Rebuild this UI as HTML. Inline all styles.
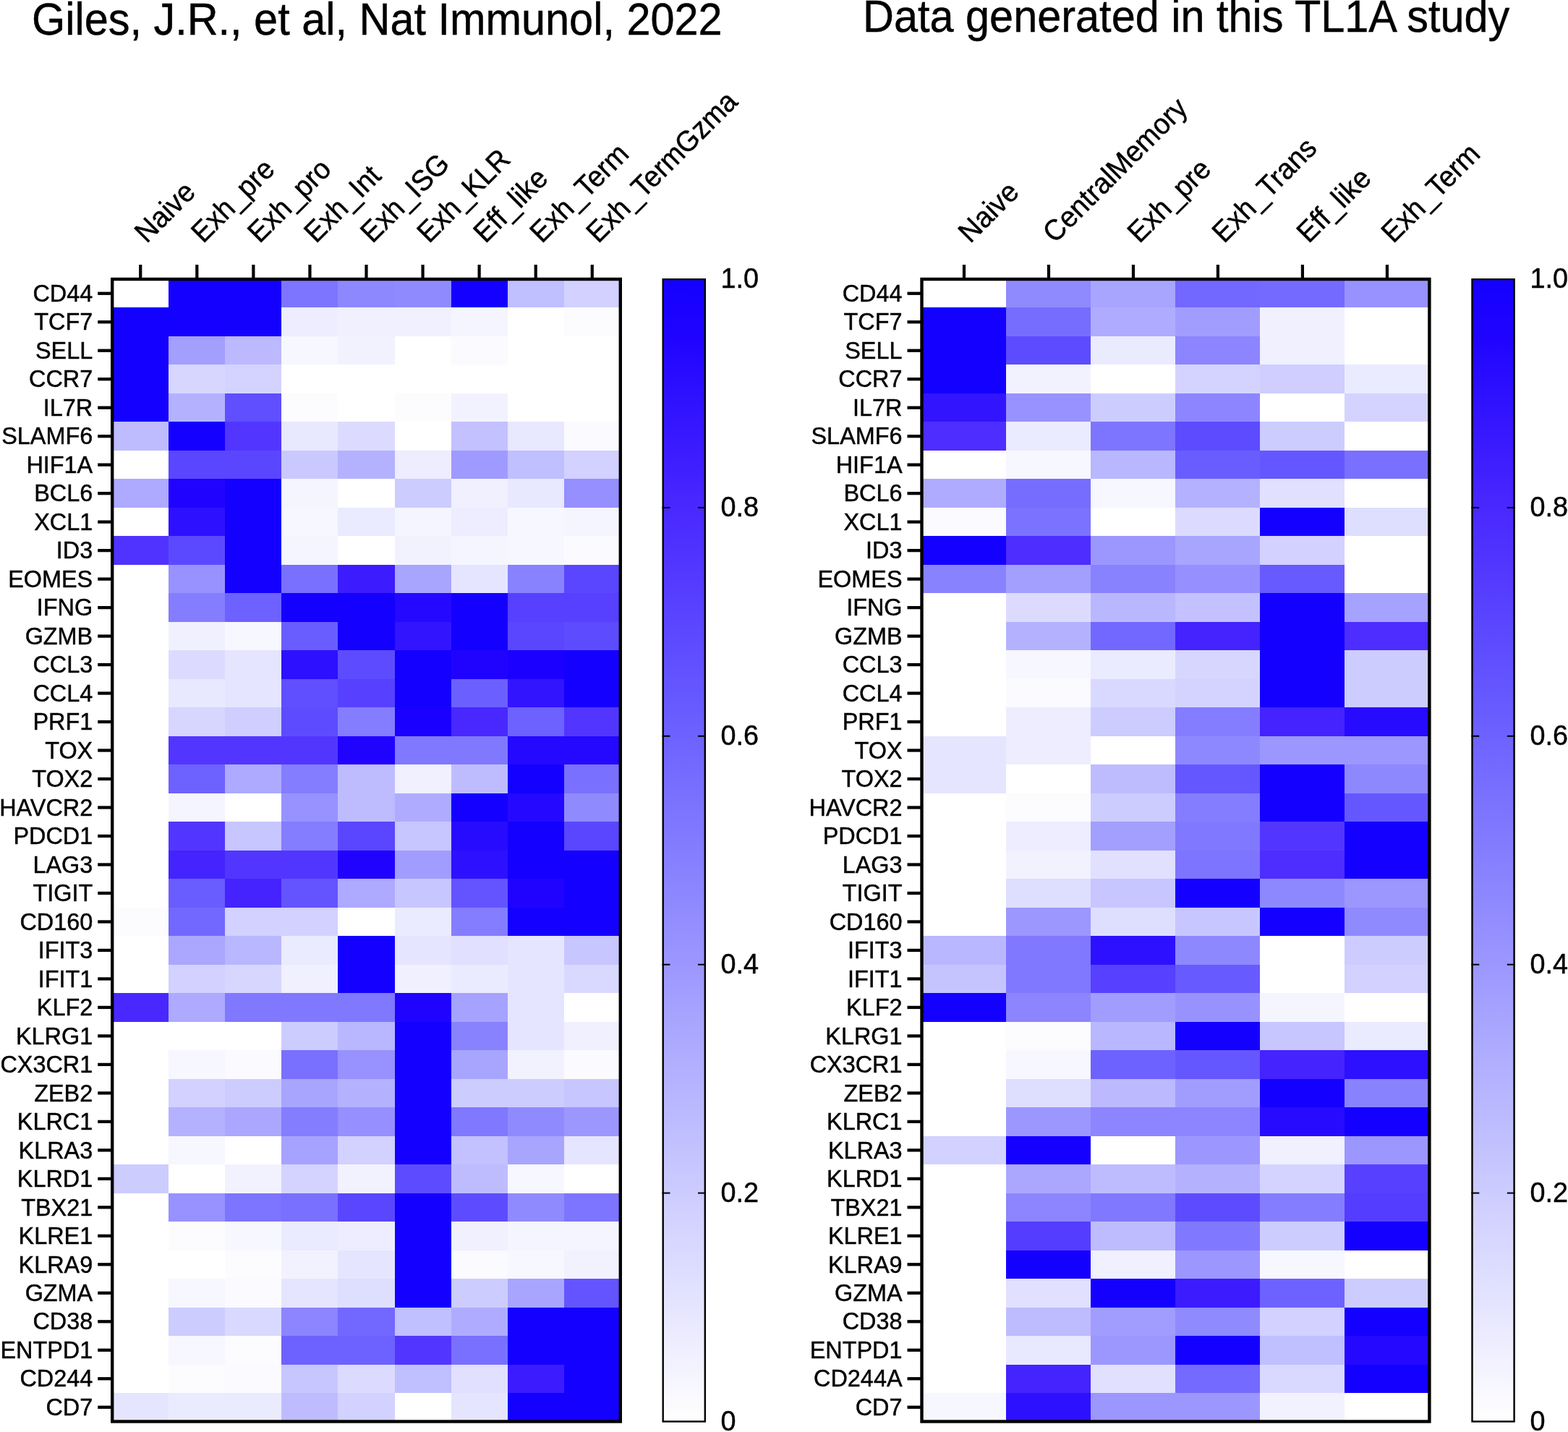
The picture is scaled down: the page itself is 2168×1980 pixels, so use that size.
<!DOCTYPE html><html><head><meta charset="utf-8"><style>html,body{margin:0;padding:0;background:#fff;overflow:hidden}svg{display:block}text{font-family:'Liberation Sans',Arial,sans-serif;fill:#000;stroke:#000;stroke-width:0.45px}</style></head><body>
<svg width="2168" height="1980" viewBox="0 0 2168 1980">
<rect x="0" y="0" width="2168" height="1980" fill="#fff"/>
<rect x="155.20" y="386.00" width="78.67" height="40.09" fill="#ffffff" shape-rendering="crispEdges"/>
<rect x="233.27" y="386.00" width="78.67" height="40.09" fill="#1400ff" shape-rendering="crispEdges"/>
<rect x="311.33" y="386.00" width="78.67" height="40.09" fill="#1400ff" shape-rendering="crispEdges"/>
<rect x="389.40" y="386.00" width="78.67" height="40.09" fill="#7d75ff" shape-rendering="crispEdges"/>
<rect x="467.47" y="386.00" width="78.67" height="40.09" fill="#8e88ff" shape-rendering="crispEdges"/>
<rect x="545.53" y="386.00" width="78.67" height="40.09" fill="#908aff" shape-rendering="crispEdges"/>
<rect x="623.60" y="386.00" width="78.67" height="40.09" fill="#1400ff" shape-rendering="crispEdges"/>
<rect x="701.67" y="386.00" width="78.67" height="40.09" fill="#c0bfff" shape-rendering="crispEdges"/>
<rect x="779.73" y="386.00" width="78.67" height="40.09" fill="#d2d1ff" shape-rendering="crispEdges"/>
<rect x="155.20" y="425.49" width="78.67" height="40.09" fill="#1400ff" shape-rendering="crispEdges"/>
<rect x="233.27" y="425.49" width="78.67" height="40.09" fill="#1400ff" shape-rendering="crispEdges"/>
<rect x="311.33" y="425.49" width="78.67" height="40.09" fill="#1400ff" shape-rendering="crispEdges"/>
<rect x="389.40" y="425.49" width="78.67" height="40.09" fill="#ededff" shape-rendering="crispEdges"/>
<rect x="467.47" y="425.49" width="78.67" height="40.09" fill="#f0f0ff" shape-rendering="crispEdges"/>
<rect x="545.53" y="425.49" width="78.67" height="40.09" fill="#f0f0ff" shape-rendering="crispEdges"/>
<rect x="623.60" y="425.49" width="78.67" height="40.09" fill="#f5f5ff" shape-rendering="crispEdges"/>
<rect x="701.67" y="425.49" width="78.67" height="40.09" fill="#ffffff" shape-rendering="crispEdges"/>
<rect x="779.73" y="425.49" width="78.67" height="40.09" fill="#fcfcff" shape-rendering="crispEdges"/>
<rect x="155.20" y="464.98" width="78.67" height="40.09" fill="#1400ff" shape-rendering="crispEdges"/>
<rect x="233.27" y="464.98" width="78.67" height="40.09" fill="#a39fff" shape-rendering="crispEdges"/>
<rect x="311.33" y="464.98" width="78.67" height="40.09" fill="#bcb9ff" shape-rendering="crispEdges"/>
<rect x="389.40" y="464.98" width="78.67" height="40.09" fill="#f7f7ff" shape-rendering="crispEdges"/>
<rect x="467.47" y="464.98" width="78.67" height="40.09" fill="#f2f2ff" shape-rendering="crispEdges"/>
<rect x="545.53" y="464.98" width="78.67" height="40.09" fill="#ffffff" shape-rendering="crispEdges"/>
<rect x="623.60" y="464.98" width="78.67" height="40.09" fill="#fafaff" shape-rendering="crispEdges"/>
<rect x="701.67" y="464.98" width="78.67" height="40.09" fill="#ffffff" shape-rendering="crispEdges"/>
<rect x="779.73" y="464.98" width="78.67" height="40.09" fill="#ffffff" shape-rendering="crispEdges"/>
<rect x="155.20" y="504.46" width="78.67" height="40.09" fill="#1400ff" shape-rendering="crispEdges"/>
<rect x="233.27" y="504.46" width="78.67" height="40.09" fill="#d7d6ff" shape-rendering="crispEdges"/>
<rect x="311.33" y="504.46" width="78.67" height="40.09" fill="#d4d3ff" shape-rendering="crispEdges"/>
<rect x="389.40" y="504.46" width="78.67" height="40.09" fill="#ffffff" shape-rendering="crispEdges"/>
<rect x="467.47" y="504.46" width="78.67" height="40.09" fill="#ffffff" shape-rendering="crispEdges"/>
<rect x="545.53" y="504.46" width="78.67" height="40.09" fill="#ffffff" shape-rendering="crispEdges"/>
<rect x="623.60" y="504.46" width="78.67" height="40.09" fill="#ffffff" shape-rendering="crispEdges"/>
<rect x="701.67" y="504.46" width="78.67" height="40.09" fill="#ffffff" shape-rendering="crispEdges"/>
<rect x="779.73" y="504.46" width="78.67" height="40.09" fill="#ffffff" shape-rendering="crispEdges"/>
<rect x="155.20" y="543.95" width="78.67" height="40.09" fill="#1400ff" shape-rendering="crispEdges"/>
<rect x="233.27" y="543.95" width="78.67" height="40.09" fill="#b4b2ff" shape-rendering="crispEdges"/>
<rect x="311.33" y="543.95" width="78.67" height="40.09" fill="#5f4fff" shape-rendering="crispEdges"/>
<rect x="389.40" y="543.95" width="78.67" height="40.09" fill="#fcfcff" shape-rendering="crispEdges"/>
<rect x="467.47" y="543.95" width="78.67" height="40.09" fill="#ffffff" shape-rendering="crispEdges"/>
<rect x="545.53" y="543.95" width="78.67" height="40.09" fill="#fcfcff" shape-rendering="crispEdges"/>
<rect x="623.60" y="543.95" width="78.67" height="40.09" fill="#f2f2ff" shape-rendering="crispEdges"/>
<rect x="701.67" y="543.95" width="78.67" height="40.09" fill="#ffffff" shape-rendering="crispEdges"/>
<rect x="779.73" y="543.95" width="78.67" height="40.09" fill="#ffffff" shape-rendering="crispEdges"/>
<rect x="155.20" y="583.44" width="78.67" height="40.09" fill="#bebcff" shape-rendering="crispEdges"/>
<rect x="233.27" y="583.44" width="78.67" height="40.09" fill="#1400ff" shape-rendering="crispEdges"/>
<rect x="311.33" y="583.44" width="78.67" height="40.09" fill="#5236ff" shape-rendering="crispEdges"/>
<rect x="389.40" y="583.44" width="78.67" height="40.09" fill="#e8e8ff" shape-rendering="crispEdges"/>
<rect x="467.47" y="583.44" width="78.67" height="40.09" fill="#dcdbff" shape-rendering="crispEdges"/>
<rect x="545.53" y="583.44" width="78.67" height="40.09" fill="#ffffff" shape-rendering="crispEdges"/>
<rect x="623.60" y="583.44" width="78.67" height="40.09" fill="#c3c1ff" shape-rendering="crispEdges"/>
<rect x="701.67" y="583.44" width="78.67" height="40.09" fill="#e8e8ff" shape-rendering="crispEdges"/>
<rect x="779.73" y="583.44" width="78.67" height="40.09" fill="#fafaff" shape-rendering="crispEdges"/>
<rect x="155.20" y="622.92" width="78.67" height="40.09" fill="#ffffff" shape-rendering="crispEdges"/>
<rect x="233.27" y="622.92" width="78.67" height="40.09" fill="#5a46ff" shape-rendering="crispEdges"/>
<rect x="311.33" y="622.92" width="78.67" height="40.09" fill="#5a46ff" shape-rendering="crispEdges"/>
<rect x="389.40" y="622.92" width="78.67" height="40.09" fill="#cac9ff" shape-rendering="crispEdges"/>
<rect x="467.47" y="622.92" width="78.67" height="40.09" fill="#b4b2ff" shape-rendering="crispEdges"/>
<rect x="545.53" y="622.92" width="78.67" height="40.09" fill="#ededff" shape-rendering="crispEdges"/>
<rect x="623.60" y="622.92" width="78.67" height="40.09" fill="#9f9aff" shape-rendering="crispEdges"/>
<rect x="701.67" y="622.92" width="78.67" height="40.09" fill="#c0bfff" shape-rendering="crispEdges"/>
<rect x="779.73" y="622.92" width="78.67" height="40.09" fill="#d2d1ff" shape-rendering="crispEdges"/>
<rect x="155.20" y="662.41" width="78.67" height="40.09" fill="#adaaff" shape-rendering="crispEdges"/>
<rect x="233.27" y="662.41" width="78.67" height="40.09" fill="#2003ff" shape-rendering="crispEdges"/>
<rect x="311.33" y="662.41" width="78.67" height="40.09" fill="#1400ff" shape-rendering="crispEdges"/>
<rect x="389.40" y="662.41" width="78.67" height="40.09" fill="#f5f5ff" shape-rendering="crispEdges"/>
<rect x="467.47" y="662.41" width="78.67" height="40.09" fill="#ffffff" shape-rendering="crispEdges"/>
<rect x="545.53" y="662.41" width="78.67" height="40.09" fill="#cdccff" shape-rendering="crispEdges"/>
<rect x="623.60" y="662.41" width="78.67" height="40.09" fill="#f0f0ff" shape-rendering="crispEdges"/>
<rect x="701.67" y="662.41" width="78.67" height="40.09" fill="#e8e8ff" shape-rendering="crispEdges"/>
<rect x="779.73" y="662.41" width="78.67" height="40.09" fill="#958fff" shape-rendering="crispEdges"/>
<rect x="155.20" y="701.90" width="78.67" height="40.09" fill="#ffffff" shape-rendering="crispEdges"/>
<rect x="233.27" y="701.90" width="78.67" height="40.09" fill="#2d10ff" shape-rendering="crispEdges"/>
<rect x="311.33" y="701.90" width="78.67" height="40.09" fill="#1400ff" shape-rendering="crispEdges"/>
<rect x="389.40" y="701.90" width="78.67" height="40.09" fill="#f7f7ff" shape-rendering="crispEdges"/>
<rect x="467.47" y="701.90" width="78.67" height="40.09" fill="#ebebff" shape-rendering="crispEdges"/>
<rect x="545.53" y="701.90" width="78.67" height="40.09" fill="#f5f5ff" shape-rendering="crispEdges"/>
<rect x="623.60" y="701.90" width="78.67" height="40.09" fill="#ededff" shape-rendering="crispEdges"/>
<rect x="701.67" y="701.90" width="78.67" height="40.09" fill="#f7f7ff" shape-rendering="crispEdges"/>
<rect x="779.73" y="701.90" width="78.67" height="40.09" fill="#f5f5ff" shape-rendering="crispEdges"/>
<rect x="155.20" y="741.39" width="78.67" height="40.09" fill="#5133ff" shape-rendering="crispEdges"/>
<rect x="233.27" y="741.39" width="78.67" height="40.09" fill="#5b49ff" shape-rendering="crispEdges"/>
<rect x="311.33" y="741.39" width="78.67" height="40.09" fill="#1400ff" shape-rendering="crispEdges"/>
<rect x="389.40" y="741.39" width="78.67" height="40.09" fill="#f5f5ff" shape-rendering="crispEdges"/>
<rect x="467.47" y="741.39" width="78.67" height="40.09" fill="#ffffff" shape-rendering="crispEdges"/>
<rect x="545.53" y="741.39" width="78.67" height="40.09" fill="#f2f2ff" shape-rendering="crispEdges"/>
<rect x="623.60" y="741.39" width="78.67" height="40.09" fill="#f5f5ff" shape-rendering="crispEdges"/>
<rect x="701.67" y="741.39" width="78.67" height="40.09" fill="#f7f7ff" shape-rendering="crispEdges"/>
<rect x="779.73" y="741.39" width="78.67" height="40.09" fill="#fafaff" shape-rendering="crispEdges"/>
<rect x="155.20" y="780.88" width="78.67" height="40.09" fill="#ffffff" shape-rendering="crispEdges"/>
<rect x="233.27" y="780.88" width="78.67" height="40.09" fill="#9792ff" shape-rendering="crispEdges"/>
<rect x="311.33" y="780.88" width="78.67" height="40.09" fill="#1400ff" shape-rendering="crispEdges"/>
<rect x="389.40" y="780.88" width="78.67" height="40.09" fill="#7970ff" shape-rendering="crispEdges"/>
<rect x="467.47" y="780.88" width="78.67" height="40.09" fill="#3c1bff" shape-rendering="crispEdges"/>
<rect x="545.53" y="780.88" width="78.67" height="40.09" fill="#a8a5ff" shape-rendering="crispEdges"/>
<rect x="623.60" y="780.88" width="78.67" height="40.09" fill="#e6e5ff" shape-rendering="crispEdges"/>
<rect x="701.67" y="780.88" width="78.67" height="40.09" fill="#8982ff" shape-rendering="crispEdges"/>
<rect x="779.73" y="780.88" width="78.67" height="40.09" fill="#5a46ff" shape-rendering="crispEdges"/>
<rect x="155.20" y="820.36" width="78.67" height="40.09" fill="#ffffff" shape-rendering="crispEdges"/>
<rect x="233.27" y="820.36" width="78.67" height="40.09" fill="#847dff" shape-rendering="crispEdges"/>
<rect x="311.33" y="820.36" width="78.67" height="40.09" fill="#6d62ff" shape-rendering="crispEdges"/>
<rect x="389.40" y="820.36" width="78.67" height="40.09" fill="#1400ff" shape-rendering="crispEdges"/>
<rect x="467.47" y="820.36" width="78.67" height="40.09" fill="#1400ff" shape-rendering="crispEdges"/>
<rect x="545.53" y="820.36" width="78.67" height="40.09" fill="#2508ff" shape-rendering="crispEdges"/>
<rect x="623.60" y="820.36" width="78.67" height="40.09" fill="#1400ff" shape-rendering="crispEdges"/>
<rect x="701.67" y="820.36" width="78.67" height="40.09" fill="#5740ff" shape-rendering="crispEdges"/>
<rect x="779.73" y="820.36" width="78.67" height="40.09" fill="#5740ff" shape-rendering="crispEdges"/>
<rect x="155.20" y="859.85" width="78.67" height="40.09" fill="#ffffff" shape-rendering="crispEdges"/>
<rect x="233.27" y="859.85" width="78.67" height="40.09" fill="#f0f0ff" shape-rendering="crispEdges"/>
<rect x="311.33" y="859.85" width="78.67" height="40.09" fill="#f7f7ff" shape-rendering="crispEdges"/>
<rect x="389.40" y="859.85" width="78.67" height="40.09" fill="#695dff" shape-rendering="crispEdges"/>
<rect x="467.47" y="859.85" width="78.67" height="40.09" fill="#1400ff" shape-rendering="crispEdges"/>
<rect x="545.53" y="859.85" width="78.67" height="40.09" fill="#3314ff" shape-rendering="crispEdges"/>
<rect x="623.60" y="859.85" width="78.67" height="40.09" fill="#1400ff" shape-rendering="crispEdges"/>
<rect x="701.67" y="859.85" width="78.67" height="40.09" fill="#5a46ff" shape-rendering="crispEdges"/>
<rect x="779.73" y="859.85" width="78.67" height="40.09" fill="#5d4cff" shape-rendering="crispEdges"/>
<rect x="155.20" y="899.34" width="78.67" height="40.09" fill="#ffffff" shape-rendering="crispEdges"/>
<rect x="233.27" y="899.34" width="78.67" height="40.09" fill="#dcdbff" shape-rendering="crispEdges"/>
<rect x="311.33" y="899.34" width="78.67" height="40.09" fill="#e6e5ff" shape-rendering="crispEdges"/>
<rect x="389.40" y="899.34" width="78.67" height="40.09" fill="#2d10ff" shape-rendering="crispEdges"/>
<rect x="467.47" y="899.34" width="78.67" height="40.09" fill="#5d4cff" shape-rendering="crispEdges"/>
<rect x="545.53" y="899.34" width="78.67" height="40.09" fill="#1400ff" shape-rendering="crispEdges"/>
<rect x="623.60" y="899.34" width="78.67" height="40.09" fill="#2003ff" shape-rendering="crispEdges"/>
<rect x="701.67" y="899.34" width="78.67" height="40.09" fill="#1b00ff" shape-rendering="crispEdges"/>
<rect x="779.73" y="899.34" width="78.67" height="40.09" fill="#1400ff" shape-rendering="crispEdges"/>
<rect x="155.20" y="938.82" width="78.67" height="40.09" fill="#ffffff" shape-rendering="crispEdges"/>
<rect x="233.27" y="938.82" width="78.67" height="40.09" fill="#e8e8ff" shape-rendering="crispEdges"/>
<rect x="311.33" y="938.82" width="78.67" height="40.09" fill="#e6e5ff" shape-rendering="crispEdges"/>
<rect x="389.40" y="938.82" width="78.67" height="40.09" fill="#5f4fff" shape-rendering="crispEdges"/>
<rect x="467.47" y="938.82" width="78.67" height="40.09" fill="#5740ff" shape-rendering="crispEdges"/>
<rect x="545.53" y="938.82" width="78.67" height="40.09" fill="#1400ff" shape-rendering="crispEdges"/>
<rect x="623.60" y="938.82" width="78.67" height="40.09" fill="#6b60ff" shape-rendering="crispEdges"/>
<rect x="701.67" y="938.82" width="78.67" height="40.09" fill="#3314ff" shape-rendering="crispEdges"/>
<rect x="779.73" y="938.82" width="78.67" height="40.09" fill="#1400ff" shape-rendering="crispEdges"/>
<rect x="155.20" y="978.31" width="78.67" height="40.09" fill="#ffffff" shape-rendering="crispEdges"/>
<rect x="233.27" y="978.31" width="78.67" height="40.09" fill="#d7d6ff" shape-rendering="crispEdges"/>
<rect x="311.33" y="978.31" width="78.67" height="40.09" fill="#cfceff" shape-rendering="crispEdges"/>
<rect x="389.40" y="978.31" width="78.67" height="40.09" fill="#5d4cff" shape-rendering="crispEdges"/>
<rect x="467.47" y="978.31" width="78.67" height="40.09" fill="#847dff" shape-rendering="crispEdges"/>
<rect x="545.53" y="978.31" width="78.67" height="40.09" fill="#1900ff" shape-rendering="crispEdges"/>
<rect x="623.60" y="978.31" width="78.67" height="40.09" fill="#4928ff" shape-rendering="crispEdges"/>
<rect x="701.67" y="978.31" width="78.67" height="40.09" fill="#6d62ff" shape-rendering="crispEdges"/>
<rect x="779.73" y="978.31" width="78.67" height="40.09" fill="#5236ff" shape-rendering="crispEdges"/>
<rect x="155.20" y="1017.80" width="78.67" height="40.09" fill="#ffffff" shape-rendering="crispEdges"/>
<rect x="233.27" y="1017.80" width="78.67" height="40.09" fill="#5236ff" shape-rendering="crispEdges"/>
<rect x="311.33" y="1017.80" width="78.67" height="40.09" fill="#5236ff" shape-rendering="crispEdges"/>
<rect x="389.40" y="1017.80" width="78.67" height="40.09" fill="#5236ff" shape-rendering="crispEdges"/>
<rect x="467.47" y="1017.80" width="78.67" height="40.09" fill="#2003ff" shape-rendering="crispEdges"/>
<rect x="545.53" y="1017.80" width="78.67" height="40.09" fill="#8078ff" shape-rendering="crispEdges"/>
<rect x="623.60" y="1017.80" width="78.67" height="40.09" fill="#8078ff" shape-rendering="crispEdges"/>
<rect x="701.67" y="1017.80" width="78.67" height="40.09" fill="#2508ff" shape-rendering="crispEdges"/>
<rect x="779.73" y="1017.80" width="78.67" height="40.09" fill="#2508ff" shape-rendering="crispEdges"/>
<rect x="155.20" y="1057.29" width="78.67" height="40.09" fill="#ffffff" shape-rendering="crispEdges"/>
<rect x="233.27" y="1057.29" width="78.67" height="40.09" fill="#6d62ff" shape-rendering="crispEdges"/>
<rect x="311.33" y="1057.29" width="78.67" height="40.09" fill="#adaaff" shape-rendering="crispEdges"/>
<rect x="389.40" y="1057.29" width="78.67" height="40.09" fill="#847dff" shape-rendering="crispEdges"/>
<rect x="467.47" y="1057.29" width="78.67" height="40.09" fill="#bebcff" shape-rendering="crispEdges"/>
<rect x="545.53" y="1057.29" width="78.67" height="40.09" fill="#f0f0ff" shape-rendering="crispEdges"/>
<rect x="623.60" y="1057.29" width="78.67" height="40.09" fill="#bebcff" shape-rendering="crispEdges"/>
<rect x="701.67" y="1057.29" width="78.67" height="40.09" fill="#1400ff" shape-rendering="crispEdges"/>
<rect x="779.73" y="1057.29" width="78.67" height="40.09" fill="#7970ff" shape-rendering="crispEdges"/>
<rect x="155.20" y="1096.78" width="78.67" height="40.09" fill="#ffffff" shape-rendering="crispEdges"/>
<rect x="233.27" y="1096.78" width="78.67" height="40.09" fill="#f5f5ff" shape-rendering="crispEdges"/>
<rect x="311.33" y="1096.78" width="78.67" height="40.09" fill="#ffffff" shape-rendering="crispEdges"/>
<rect x="389.40" y="1096.78" width="78.67" height="40.09" fill="#9792ff" shape-rendering="crispEdges"/>
<rect x="467.47" y="1096.78" width="78.67" height="40.09" fill="#bebcff" shape-rendering="crispEdges"/>
<rect x="545.53" y="1096.78" width="78.67" height="40.09" fill="#afacff" shape-rendering="crispEdges"/>
<rect x="623.60" y="1096.78" width="78.67" height="40.09" fill="#1400ff" shape-rendering="crispEdges"/>
<rect x="701.67" y="1096.78" width="78.67" height="40.09" fill="#2508ff" shape-rendering="crispEdges"/>
<rect x="779.73" y="1096.78" width="78.67" height="40.09" fill="#908aff" shape-rendering="crispEdges"/>
<rect x="155.20" y="1136.26" width="78.67" height="40.09" fill="#ffffff" shape-rendering="crispEdges"/>
<rect x="233.27" y="1136.26" width="78.67" height="40.09" fill="#5236ff" shape-rendering="crispEdges"/>
<rect x="311.33" y="1136.26" width="78.67" height="40.09" fill="#c8c6ff" shape-rendering="crispEdges"/>
<rect x="389.40" y="1136.26" width="78.67" height="40.09" fill="#847dff" shape-rendering="crispEdges"/>
<rect x="467.47" y="1136.26" width="78.67" height="40.09" fill="#5a46ff" shape-rendering="crispEdges"/>
<rect x="545.53" y="1136.26" width="78.67" height="40.09" fill="#c8c6ff" shape-rendering="crispEdges"/>
<rect x="623.60" y="1136.26" width="78.67" height="40.09" fill="#270bff" shape-rendering="crispEdges"/>
<rect x="701.67" y="1136.26" width="78.67" height="40.09" fill="#1400ff" shape-rendering="crispEdges"/>
<rect x="779.73" y="1136.26" width="78.67" height="40.09" fill="#5a46ff" shape-rendering="crispEdges"/>
<rect x="155.20" y="1175.75" width="78.67" height="40.09" fill="#ffffff" shape-rendering="crispEdges"/>
<rect x="233.27" y="1175.75" width="78.67" height="40.09" fill="#4423ff" shape-rendering="crispEdges"/>
<rect x="311.33" y="1175.75" width="78.67" height="40.09" fill="#5236ff" shape-rendering="crispEdges"/>
<rect x="389.40" y="1175.75" width="78.67" height="40.09" fill="#5236ff" shape-rendering="crispEdges"/>
<rect x="467.47" y="1175.75" width="78.67" height="40.09" fill="#2003ff" shape-rendering="crispEdges"/>
<rect x="545.53" y="1175.75" width="78.67" height="40.09" fill="#a19dff" shape-rendering="crispEdges"/>
<rect x="623.60" y="1175.75" width="78.67" height="40.09" fill="#2d10ff" shape-rendering="crispEdges"/>
<rect x="701.67" y="1175.75" width="78.67" height="40.09" fill="#1400ff" shape-rendering="crispEdges"/>
<rect x="779.73" y="1175.75" width="78.67" height="40.09" fill="#1400ff" shape-rendering="crispEdges"/>
<rect x="155.20" y="1215.24" width="78.67" height="40.09" fill="#ffffff" shape-rendering="crispEdges"/>
<rect x="233.27" y="1215.24" width="78.67" height="40.09" fill="#695dff" shape-rendering="crispEdges"/>
<rect x="311.33" y="1215.24" width="78.67" height="40.09" fill="#4423ff" shape-rendering="crispEdges"/>
<rect x="389.40" y="1215.24" width="78.67" height="40.09" fill="#6354ff" shape-rendering="crispEdges"/>
<rect x="467.47" y="1215.24" width="78.67" height="40.09" fill="#adaaff" shape-rendering="crispEdges"/>
<rect x="545.53" y="1215.24" width="78.67" height="40.09" fill="#c8c6ff" shape-rendering="crispEdges"/>
<rect x="623.60" y="1215.24" width="78.67" height="40.09" fill="#6354ff" shape-rendering="crispEdges"/>
<rect x="701.67" y="1215.24" width="78.67" height="40.09" fill="#2003ff" shape-rendering="crispEdges"/>
<rect x="779.73" y="1215.24" width="78.67" height="40.09" fill="#1400ff" shape-rendering="crispEdges"/>
<rect x="155.20" y="1254.72" width="78.67" height="40.09" fill="#fcfcff" shape-rendering="crispEdges"/>
<rect x="233.27" y="1254.72" width="78.67" height="40.09" fill="#7268ff" shape-rendering="crispEdges"/>
<rect x="311.33" y="1254.72" width="78.67" height="40.09" fill="#d2d1ff" shape-rendering="crispEdges"/>
<rect x="389.40" y="1254.72" width="78.67" height="40.09" fill="#d2d1ff" shape-rendering="crispEdges"/>
<rect x="467.47" y="1254.72" width="78.67" height="40.09" fill="#ffffff" shape-rendering="crispEdges"/>
<rect x="545.53" y="1254.72" width="78.67" height="40.09" fill="#ebebff" shape-rendering="crispEdges"/>
<rect x="623.60" y="1254.72" width="78.67" height="40.09" fill="#847dff" shape-rendering="crispEdges"/>
<rect x="701.67" y="1254.72" width="78.67" height="40.09" fill="#1400ff" shape-rendering="crispEdges"/>
<rect x="779.73" y="1254.72" width="78.67" height="40.09" fill="#1400ff" shape-rendering="crispEdges"/>
<rect x="155.20" y="1294.21" width="78.67" height="40.09" fill="#ffffff" shape-rendering="crispEdges"/>
<rect x="233.27" y="1294.21" width="78.67" height="40.09" fill="#aba7ff" shape-rendering="crispEdges"/>
<rect x="311.33" y="1294.21" width="78.67" height="40.09" fill="#b9b7ff" shape-rendering="crispEdges"/>
<rect x="389.40" y="1294.21" width="78.67" height="40.09" fill="#ebebff" shape-rendering="crispEdges"/>
<rect x="467.47" y="1294.21" width="78.67" height="40.09" fill="#1400ff" shape-rendering="crispEdges"/>
<rect x="545.53" y="1294.21" width="78.67" height="40.09" fill="#e6e5ff" shape-rendering="crispEdges"/>
<rect x="623.60" y="1294.21" width="78.67" height="40.09" fill="#e1e0ff" shape-rendering="crispEdges"/>
<rect x="701.67" y="1294.21" width="78.67" height="40.09" fill="#e6e5ff" shape-rendering="crispEdges"/>
<rect x="779.73" y="1294.21" width="78.67" height="40.09" fill="#c8c6ff" shape-rendering="crispEdges"/>
<rect x="155.20" y="1333.70" width="78.67" height="40.09" fill="#ffffff" shape-rendering="crispEdges"/>
<rect x="233.27" y="1333.70" width="78.67" height="40.09" fill="#d2d1ff" shape-rendering="crispEdges"/>
<rect x="311.33" y="1333.70" width="78.67" height="40.09" fill="#d7d6ff" shape-rendering="crispEdges"/>
<rect x="389.40" y="1333.70" width="78.67" height="40.09" fill="#f0f0ff" shape-rendering="crispEdges"/>
<rect x="467.47" y="1333.70" width="78.67" height="40.09" fill="#1400ff" shape-rendering="crispEdges"/>
<rect x="545.53" y="1333.70" width="78.67" height="40.09" fill="#f0f0ff" shape-rendering="crispEdges"/>
<rect x="623.60" y="1333.70" width="78.67" height="40.09" fill="#ebebff" shape-rendering="crispEdges"/>
<rect x="701.67" y="1333.70" width="78.67" height="40.09" fill="#e6e5ff" shape-rendering="crispEdges"/>
<rect x="779.73" y="1333.70" width="78.67" height="40.09" fill="#d9d9ff" shape-rendering="crispEdges"/>
<rect x="155.20" y="1373.19" width="78.67" height="40.09" fill="#4928ff" shape-rendering="crispEdges"/>
<rect x="233.27" y="1373.19" width="78.67" height="40.09" fill="#adaaff" shape-rendering="crispEdges"/>
<rect x="311.33" y="1373.19" width="78.67" height="40.09" fill="#8078ff" shape-rendering="crispEdges"/>
<rect x="389.40" y="1373.19" width="78.67" height="40.09" fill="#8078ff" shape-rendering="crispEdges"/>
<rect x="467.47" y="1373.19" width="78.67" height="40.09" fill="#8078ff" shape-rendering="crispEdges"/>
<rect x="545.53" y="1373.19" width="78.67" height="40.09" fill="#2003ff" shape-rendering="crispEdges"/>
<rect x="623.60" y="1373.19" width="78.67" height="40.09" fill="#a6a2ff" shape-rendering="crispEdges"/>
<rect x="701.67" y="1373.19" width="78.67" height="40.09" fill="#e6e5ff" shape-rendering="crispEdges"/>
<rect x="779.73" y="1373.19" width="78.67" height="40.09" fill="#ffffff" shape-rendering="crispEdges"/>
<rect x="155.20" y="1412.67" width="78.67" height="40.09" fill="#ffffff" shape-rendering="crispEdges"/>
<rect x="233.27" y="1412.67" width="78.67" height="40.09" fill="#ffffff" shape-rendering="crispEdges"/>
<rect x="311.33" y="1412.67" width="78.67" height="40.09" fill="#ffffff" shape-rendering="crispEdges"/>
<rect x="389.40" y="1412.67" width="78.67" height="40.09" fill="#cdccff" shape-rendering="crispEdges"/>
<rect x="467.47" y="1412.67" width="78.67" height="40.09" fill="#b9b7ff" shape-rendering="crispEdges"/>
<rect x="545.53" y="1412.67" width="78.67" height="40.09" fill="#1400ff" shape-rendering="crispEdges"/>
<rect x="623.60" y="1412.67" width="78.67" height="40.09" fill="#8982ff" shape-rendering="crispEdges"/>
<rect x="701.67" y="1412.67" width="78.67" height="40.09" fill="#e6e5ff" shape-rendering="crispEdges"/>
<rect x="779.73" y="1412.67" width="78.67" height="40.09" fill="#f0f0ff" shape-rendering="crispEdges"/>
<rect x="155.20" y="1452.16" width="78.67" height="40.09" fill="#ffffff" shape-rendering="crispEdges"/>
<rect x="233.27" y="1452.16" width="78.67" height="40.09" fill="#f7f7ff" shape-rendering="crispEdges"/>
<rect x="311.33" y="1452.16" width="78.67" height="40.09" fill="#fafaff" shape-rendering="crispEdges"/>
<rect x="389.40" y="1452.16" width="78.67" height="40.09" fill="#7970ff" shape-rendering="crispEdges"/>
<rect x="467.47" y="1452.16" width="78.67" height="40.09" fill="#9792ff" shape-rendering="crispEdges"/>
<rect x="545.53" y="1452.16" width="78.67" height="40.09" fill="#1400ff" shape-rendering="crispEdges"/>
<rect x="623.60" y="1452.16" width="78.67" height="40.09" fill="#a8a5ff" shape-rendering="crispEdges"/>
<rect x="701.67" y="1452.16" width="78.67" height="40.09" fill="#f2f2ff" shape-rendering="crispEdges"/>
<rect x="779.73" y="1452.16" width="78.67" height="40.09" fill="#fafaff" shape-rendering="crispEdges"/>
<rect x="155.20" y="1491.65" width="78.67" height="40.09" fill="#ffffff" shape-rendering="crispEdges"/>
<rect x="233.27" y="1491.65" width="78.67" height="40.09" fill="#d2d1ff" shape-rendering="crispEdges"/>
<rect x="311.33" y="1491.65" width="78.67" height="40.09" fill="#cdccff" shape-rendering="crispEdges"/>
<rect x="389.40" y="1491.65" width="78.67" height="40.09" fill="#a8a5ff" shape-rendering="crispEdges"/>
<rect x="467.47" y="1491.65" width="78.67" height="40.09" fill="#b4b2ff" shape-rendering="crispEdges"/>
<rect x="545.53" y="1491.65" width="78.67" height="40.09" fill="#1400ff" shape-rendering="crispEdges"/>
<rect x="623.60" y="1491.65" width="78.67" height="40.09" fill="#cdccff" shape-rendering="crispEdges"/>
<rect x="701.67" y="1491.65" width="78.67" height="40.09" fill="#cdccff" shape-rendering="crispEdges"/>
<rect x="779.73" y="1491.65" width="78.67" height="40.09" fill="#c8c6ff" shape-rendering="crispEdges"/>
<rect x="155.20" y="1531.14" width="78.67" height="40.09" fill="#ffffff" shape-rendering="crispEdges"/>
<rect x="233.27" y="1531.14" width="78.67" height="40.09" fill="#b4b2ff" shape-rendering="crispEdges"/>
<rect x="311.33" y="1531.14" width="78.67" height="40.09" fill="#aba7ff" shape-rendering="crispEdges"/>
<rect x="389.40" y="1531.14" width="78.67" height="40.09" fill="#847dff" shape-rendering="crispEdges"/>
<rect x="467.47" y="1531.14" width="78.67" height="40.09" fill="#958fff" shape-rendering="crispEdges"/>
<rect x="545.53" y="1531.14" width="78.67" height="40.09" fill="#1400ff" shape-rendering="crispEdges"/>
<rect x="623.60" y="1531.14" width="78.67" height="40.09" fill="#8078ff" shape-rendering="crispEdges"/>
<rect x="701.67" y="1531.14" width="78.67" height="40.09" fill="#908aff" shape-rendering="crispEdges"/>
<rect x="779.73" y="1531.14" width="78.67" height="40.09" fill="#9c97ff" shape-rendering="crispEdges"/>
<rect x="155.20" y="1570.62" width="78.67" height="40.09" fill="#ffffff" shape-rendering="crispEdges"/>
<rect x="233.27" y="1570.62" width="78.67" height="40.09" fill="#f7f7ff" shape-rendering="crispEdges"/>
<rect x="311.33" y="1570.62" width="78.67" height="40.09" fill="#ffffff" shape-rendering="crispEdges"/>
<rect x="389.40" y="1570.62" width="78.67" height="40.09" fill="#a6a2ff" shape-rendering="crispEdges"/>
<rect x="467.47" y="1570.62" width="78.67" height="40.09" fill="#d2d1ff" shape-rendering="crispEdges"/>
<rect x="545.53" y="1570.62" width="78.67" height="40.09" fill="#1400ff" shape-rendering="crispEdges"/>
<rect x="623.60" y="1570.62" width="78.67" height="40.09" fill="#c3c1ff" shape-rendering="crispEdges"/>
<rect x="701.67" y="1570.62" width="78.67" height="40.09" fill="#a8a5ff" shape-rendering="crispEdges"/>
<rect x="779.73" y="1570.62" width="78.67" height="40.09" fill="#e6e5ff" shape-rendering="crispEdges"/>
<rect x="155.20" y="1610.11" width="78.67" height="40.09" fill="#cdccff" shape-rendering="crispEdges"/>
<rect x="233.27" y="1610.11" width="78.67" height="40.09" fill="#ffffff" shape-rendering="crispEdges"/>
<rect x="311.33" y="1610.11" width="78.67" height="40.09" fill="#f2f2ff" shape-rendering="crispEdges"/>
<rect x="389.40" y="1610.11" width="78.67" height="40.09" fill="#d4d3ff" shape-rendering="crispEdges"/>
<rect x="467.47" y="1610.11" width="78.67" height="40.09" fill="#f2f2ff" shape-rendering="crispEdges"/>
<rect x="545.53" y="1610.11" width="78.67" height="40.09" fill="#5d4cff" shape-rendering="crispEdges"/>
<rect x="623.60" y="1610.11" width="78.67" height="40.09" fill="#bebcff" shape-rendering="crispEdges"/>
<rect x="701.67" y="1610.11" width="78.67" height="40.09" fill="#f7f7ff" shape-rendering="crispEdges"/>
<rect x="779.73" y="1610.11" width="78.67" height="40.09" fill="#ffffff" shape-rendering="crispEdges"/>
<rect x="155.20" y="1649.60" width="78.67" height="40.09" fill="#ffffff" shape-rendering="crispEdges"/>
<rect x="233.27" y="1649.60" width="78.67" height="40.09" fill="#9792ff" shape-rendering="crispEdges"/>
<rect x="311.33" y="1649.60" width="78.67" height="40.09" fill="#7d75ff" shape-rendering="crispEdges"/>
<rect x="389.40" y="1649.60" width="78.67" height="40.09" fill="#7970ff" shape-rendering="crispEdges"/>
<rect x="467.47" y="1649.60" width="78.67" height="40.09" fill="#5a46ff" shape-rendering="crispEdges"/>
<rect x="545.53" y="1649.60" width="78.67" height="40.09" fill="#1400ff" shape-rendering="crispEdges"/>
<rect x="623.60" y="1649.60" width="78.67" height="40.09" fill="#5d4cff" shape-rendering="crispEdges"/>
<rect x="701.67" y="1649.60" width="78.67" height="40.09" fill="#908aff" shape-rendering="crispEdges"/>
<rect x="779.73" y="1649.60" width="78.67" height="40.09" fill="#7d75ff" shape-rendering="crispEdges"/>
<rect x="155.20" y="1689.09" width="78.67" height="40.09" fill="#ffffff" shape-rendering="crispEdges"/>
<rect x="233.27" y="1689.09" width="78.67" height="40.09" fill="#fcfcff" shape-rendering="crispEdges"/>
<rect x="311.33" y="1689.09" width="78.67" height="40.09" fill="#f7f7ff" shape-rendering="crispEdges"/>
<rect x="389.40" y="1689.09" width="78.67" height="40.09" fill="#ebebff" shape-rendering="crispEdges"/>
<rect x="467.47" y="1689.09" width="78.67" height="40.09" fill="#ededff" shape-rendering="crispEdges"/>
<rect x="545.53" y="1689.09" width="78.67" height="40.09" fill="#1400ff" shape-rendering="crispEdges"/>
<rect x="623.60" y="1689.09" width="78.67" height="40.09" fill="#f0f0ff" shape-rendering="crispEdges"/>
<rect x="701.67" y="1689.09" width="78.67" height="40.09" fill="#f5f5ff" shape-rendering="crispEdges"/>
<rect x="779.73" y="1689.09" width="78.67" height="40.09" fill="#f5f5ff" shape-rendering="crispEdges"/>
<rect x="155.20" y="1728.57" width="78.67" height="40.09" fill="#ffffff" shape-rendering="crispEdges"/>
<rect x="233.27" y="1728.57" width="78.67" height="40.09" fill="#ffffff" shape-rendering="crispEdges"/>
<rect x="311.33" y="1728.57" width="78.67" height="40.09" fill="#fcfcff" shape-rendering="crispEdges"/>
<rect x="389.40" y="1728.57" width="78.67" height="40.09" fill="#f2f2ff" shape-rendering="crispEdges"/>
<rect x="467.47" y="1728.57" width="78.67" height="40.09" fill="#e6e5ff" shape-rendering="crispEdges"/>
<rect x="545.53" y="1728.57" width="78.67" height="40.09" fill="#1400ff" shape-rendering="crispEdges"/>
<rect x="623.60" y="1728.57" width="78.67" height="40.09" fill="#fafaff" shape-rendering="crispEdges"/>
<rect x="701.67" y="1728.57" width="78.67" height="40.09" fill="#f7f7ff" shape-rendering="crispEdges"/>
<rect x="779.73" y="1728.57" width="78.67" height="40.09" fill="#f2f2ff" shape-rendering="crispEdges"/>
<rect x="155.20" y="1768.06" width="78.67" height="40.09" fill="#ffffff" shape-rendering="crispEdges"/>
<rect x="233.27" y="1768.06" width="78.67" height="40.09" fill="#f7f7ff" shape-rendering="crispEdges"/>
<rect x="311.33" y="1768.06" width="78.67" height="40.09" fill="#fafaff" shape-rendering="crispEdges"/>
<rect x="389.40" y="1768.06" width="78.67" height="40.09" fill="#e6e5ff" shape-rendering="crispEdges"/>
<rect x="467.47" y="1768.06" width="78.67" height="40.09" fill="#dedeff" shape-rendering="crispEdges"/>
<rect x="545.53" y="1768.06" width="78.67" height="40.09" fill="#1400ff" shape-rendering="crispEdges"/>
<rect x="623.60" y="1768.06" width="78.67" height="40.09" fill="#cdccff" shape-rendering="crispEdges"/>
<rect x="701.67" y="1768.06" width="78.67" height="40.09" fill="#a8a5ff" shape-rendering="crispEdges"/>
<rect x="779.73" y="1768.06" width="78.67" height="40.09" fill="#6354ff" shape-rendering="crispEdges"/>
<rect x="155.20" y="1807.55" width="78.67" height="40.09" fill="#ffffff" shape-rendering="crispEdges"/>
<rect x="233.27" y="1807.55" width="78.67" height="40.09" fill="#cdccff" shape-rendering="crispEdges"/>
<rect x="311.33" y="1807.55" width="78.67" height="40.09" fill="#d9d9ff" shape-rendering="crispEdges"/>
<rect x="389.40" y="1807.55" width="78.67" height="40.09" fill="#8c85ff" shape-rendering="crispEdges"/>
<rect x="467.47" y="1807.55" width="78.67" height="40.09" fill="#7268ff" shape-rendering="crispEdges"/>
<rect x="545.53" y="1807.55" width="78.67" height="40.09" fill="#c0bfff" shape-rendering="crispEdges"/>
<rect x="623.60" y="1807.55" width="78.67" height="40.09" fill="#afacff" shape-rendering="crispEdges"/>
<rect x="701.67" y="1807.55" width="78.67" height="40.09" fill="#1400ff" shape-rendering="crispEdges"/>
<rect x="779.73" y="1807.55" width="78.67" height="40.09" fill="#1400ff" shape-rendering="crispEdges"/>
<rect x="155.20" y="1847.04" width="78.67" height="40.09" fill="#ffffff" shape-rendering="crispEdges"/>
<rect x="233.27" y="1847.04" width="78.67" height="40.09" fill="#f7f7ff" shape-rendering="crispEdges"/>
<rect x="311.33" y="1847.04" width="78.67" height="40.09" fill="#fcfcff" shape-rendering="crispEdges"/>
<rect x="389.40" y="1847.04" width="78.67" height="40.09" fill="#6d62ff" shape-rendering="crispEdges"/>
<rect x="467.47" y="1847.04" width="78.67" height="40.09" fill="#6d62ff" shape-rendering="crispEdges"/>
<rect x="545.53" y="1847.04" width="78.67" height="40.09" fill="#5236ff" shape-rendering="crispEdges"/>
<rect x="623.60" y="1847.04" width="78.67" height="40.09" fill="#7970ff" shape-rendering="crispEdges"/>
<rect x="701.67" y="1847.04" width="78.67" height="40.09" fill="#1400ff" shape-rendering="crispEdges"/>
<rect x="779.73" y="1847.04" width="78.67" height="40.09" fill="#1400ff" shape-rendering="crispEdges"/>
<rect x="155.20" y="1886.52" width="78.67" height="40.09" fill="#ffffff" shape-rendering="crispEdges"/>
<rect x="233.27" y="1886.52" width="78.67" height="40.09" fill="#fcfcff" shape-rendering="crispEdges"/>
<rect x="311.33" y="1886.52" width="78.67" height="40.09" fill="#fafaff" shape-rendering="crispEdges"/>
<rect x="389.40" y="1886.52" width="78.67" height="40.09" fill="#c8c6ff" shape-rendering="crispEdges"/>
<rect x="467.47" y="1886.52" width="78.67" height="40.09" fill="#dcdbff" shape-rendering="crispEdges"/>
<rect x="545.53" y="1886.52" width="78.67" height="40.09" fill="#c0bfff" shape-rendering="crispEdges"/>
<rect x="623.60" y="1886.52" width="78.67" height="40.09" fill="#e1e0ff" shape-rendering="crispEdges"/>
<rect x="701.67" y="1886.52" width="78.67" height="40.09" fill="#3c1bff" shape-rendering="crispEdges"/>
<rect x="779.73" y="1886.52" width="78.67" height="40.09" fill="#1400ff" shape-rendering="crispEdges"/>
<rect x="155.20" y="1926.01" width="78.67" height="40.09" fill="#e6e5ff" shape-rendering="crispEdges"/>
<rect x="233.27" y="1926.01" width="78.67" height="40.09" fill="#ebebff" shape-rendering="crispEdges"/>
<rect x="311.33" y="1926.01" width="78.67" height="40.09" fill="#ebebff" shape-rendering="crispEdges"/>
<rect x="389.40" y="1926.01" width="78.67" height="40.09" fill="#bebcff" shape-rendering="crispEdges"/>
<rect x="467.47" y="1926.01" width="78.67" height="40.09" fill="#d2d1ff" shape-rendering="crispEdges"/>
<rect x="545.53" y="1926.01" width="78.67" height="40.09" fill="#ffffff" shape-rendering="crispEdges"/>
<rect x="623.60" y="1926.01" width="78.67" height="40.09" fill="#e6e5ff" shape-rendering="crispEdges"/>
<rect x="701.67" y="1926.01" width="78.67" height="40.09" fill="#1400ff" shape-rendering="crispEdges"/>
<rect x="779.73" y="1926.01" width="78.67" height="40.09" fill="#1400ff" shape-rendering="crispEdges"/>
<rect x="155.20" y="386.00" width="702.60" height="1579.50" fill="none" stroke="#000" stroke-width="4.4"/>
<rect x="192.13" y="366" width="4.2" height="20.00" fill="#000"/>
<text font-size="38.4" transform="translate(202.83 337.40) rotate(-45) scale(1 1.05)">Naive</text>
<rect x="270.20" y="366" width="4.2" height="20.00" fill="#000"/>
<text font-size="38.4" transform="translate(280.90 337.40) rotate(-45) scale(1 1.05)">Exh_pre</text>
<rect x="348.27" y="366" width="4.2" height="20.00" fill="#000"/>
<text font-size="38.4" transform="translate(358.97 337.40) rotate(-45) scale(1 1.05)">Exh_pro</text>
<rect x="426.33" y="366" width="4.2" height="20.00" fill="#000"/>
<text font-size="38.4" transform="translate(437.03 337.40) rotate(-45) scale(1 1.05)">Exh_Int</text>
<rect x="504.40" y="366" width="4.2" height="20.00" fill="#000"/>
<text font-size="38.4" transform="translate(515.10 337.40) rotate(-45) scale(1 1.05)">Exh_ISG</text>
<rect x="582.47" y="366" width="4.2" height="20.00" fill="#000"/>
<text font-size="38.4" transform="translate(593.17 337.40) rotate(-45) scale(1 1.05)">Exh_KLR</text>
<rect x="660.53" y="366" width="4.2" height="20.00" fill="#000"/>
<text font-size="38.4" transform="translate(671.23 337.40) rotate(-45) scale(1 1.05)">Eff_like</text>
<rect x="738.60" y="366" width="4.2" height="20.00" fill="#000"/>
<text font-size="38.4" transform="translate(749.30 337.40) rotate(-45) scale(1 1.05)">Exh_Term</text>
<rect x="816.67" y="366" width="4.2" height="20.00" fill="#000"/>
<text font-size="38.4" transform="translate(827.37 337.40) rotate(-45) scale(1 1.05)">Exh_TermGzma</text>
<rect x="135.20" y="403.59" width="20" height="4.3" fill="#000"/>
<text font-size="32.4" text-anchor="end" transform="translate(128.20 416.94) scale(1 1.05)">CD44</text>
<rect x="135.20" y="443.08" width="20" height="4.3" fill="#000"/>
<text font-size="32.4" text-anchor="end" transform="translate(128.20 456.43) scale(1 1.05)">TCF7</text>
<rect x="135.20" y="482.57" width="20" height="4.3" fill="#000"/>
<text font-size="32.4" text-anchor="end" transform="translate(128.20 495.92) scale(1 1.05)">SELL</text>
<rect x="135.20" y="522.06" width="20" height="4.3" fill="#000"/>
<text font-size="32.4" text-anchor="end" transform="translate(128.20 535.41) scale(1 1.05)">CCR7</text>
<rect x="135.20" y="561.54" width="20" height="4.3" fill="#000"/>
<text font-size="32.4" text-anchor="end" transform="translate(128.20 574.89) scale(1 1.05)">IL7R</text>
<rect x="135.20" y="601.03" width="20" height="4.3" fill="#000"/>
<text font-size="32.4" text-anchor="end" transform="translate(128.20 614.38) scale(1 1.05)">SLAMF6</text>
<rect x="135.20" y="640.52" width="20" height="4.3" fill="#000"/>
<text font-size="32.4" text-anchor="end" transform="translate(128.20 653.87) scale(1 1.05)">HIF1A</text>
<rect x="135.20" y="680.01" width="20" height="4.3" fill="#000"/>
<text font-size="32.4" text-anchor="end" transform="translate(128.20 693.36) scale(1 1.05)">BCL6</text>
<rect x="135.20" y="719.49" width="20" height="4.3" fill="#000"/>
<text font-size="32.4" text-anchor="end" transform="translate(128.20 732.84) scale(1 1.05)">XCL1</text>
<rect x="135.20" y="758.98" width="20" height="4.3" fill="#000"/>
<text font-size="32.4" text-anchor="end" transform="translate(128.20 772.33) scale(1 1.05)">ID3</text>
<rect x="135.20" y="798.47" width="20" height="4.3" fill="#000"/>
<text font-size="32.4" text-anchor="end" transform="translate(128.20 811.82) scale(1 1.05)">EOMES</text>
<rect x="135.20" y="837.96" width="20" height="4.3" fill="#000"/>
<text font-size="32.4" text-anchor="end" transform="translate(128.20 851.31) scale(1 1.05)">IFNG</text>
<rect x="135.20" y="877.44" width="20" height="4.3" fill="#000"/>
<text font-size="32.4" text-anchor="end" transform="translate(128.20 890.79) scale(1 1.05)">GZMB</text>
<rect x="135.20" y="916.93" width="20" height="4.3" fill="#000"/>
<text font-size="32.4" text-anchor="end" transform="translate(128.20 930.28) scale(1 1.05)">CCL3</text>
<rect x="135.20" y="956.42" width="20" height="4.3" fill="#000"/>
<text font-size="32.4" text-anchor="end" transform="translate(128.20 969.77) scale(1 1.05)">CCL4</text>
<rect x="135.20" y="995.91" width="20" height="4.3" fill="#000"/>
<text font-size="32.4" text-anchor="end" transform="translate(128.20 1009.26) scale(1 1.05)">PRF1</text>
<rect x="135.20" y="1035.39" width="20" height="4.3" fill="#000"/>
<text font-size="32.4" text-anchor="end" transform="translate(128.20 1048.74) scale(1 1.05)">TOX</text>
<rect x="135.20" y="1074.88" width="20" height="4.3" fill="#000"/>
<text font-size="32.4" text-anchor="end" transform="translate(128.20 1088.23) scale(1 1.05)">TOX2</text>
<rect x="135.20" y="1114.37" width="20" height="4.3" fill="#000"/>
<text font-size="32.4" text-anchor="end" transform="translate(128.20 1127.72) scale(1 1.05)">HAVCR2</text>
<rect x="135.20" y="1153.86" width="20" height="4.3" fill="#000"/>
<text font-size="32.4" text-anchor="end" transform="translate(128.20 1167.21) scale(1 1.05)">PDCD1</text>
<rect x="135.20" y="1193.34" width="20" height="4.3" fill="#000"/>
<text font-size="32.4" text-anchor="end" transform="translate(128.20 1206.69) scale(1 1.05)">LAG3</text>
<rect x="135.20" y="1232.83" width="20" height="4.3" fill="#000"/>
<text font-size="32.4" text-anchor="end" transform="translate(128.20 1246.18) scale(1 1.05)">TIGIT</text>
<rect x="135.20" y="1272.32" width="20" height="4.3" fill="#000"/>
<text font-size="32.4" text-anchor="end" transform="translate(128.20 1285.67) scale(1 1.05)">CD160</text>
<rect x="135.20" y="1311.81" width="20" height="4.3" fill="#000"/>
<text font-size="32.4" text-anchor="end" transform="translate(128.20 1325.16) scale(1 1.05)">IFIT3</text>
<rect x="135.20" y="1351.29" width="20" height="4.3" fill="#000"/>
<text font-size="32.4" text-anchor="end" transform="translate(128.20 1364.64) scale(1 1.05)">IFIT1</text>
<rect x="135.20" y="1390.78" width="20" height="4.3" fill="#000"/>
<text font-size="32.4" text-anchor="end" transform="translate(128.20 1404.13) scale(1 1.05)">KLF2</text>
<rect x="135.20" y="1430.27" width="20" height="4.3" fill="#000"/>
<text font-size="32.4" text-anchor="end" transform="translate(128.20 1443.62) scale(1 1.05)">KLRG1</text>
<rect x="135.20" y="1469.76" width="20" height="4.3" fill="#000"/>
<text font-size="32.4" text-anchor="end" transform="translate(128.20 1483.11) scale(1 1.05)">CX3CR1</text>
<rect x="135.20" y="1509.24" width="20" height="4.3" fill="#000"/>
<text font-size="32.4" text-anchor="end" transform="translate(128.20 1522.59) scale(1 1.05)">ZEB2</text>
<rect x="135.20" y="1548.73" width="20" height="4.3" fill="#000"/>
<text font-size="32.4" text-anchor="end" transform="translate(128.20 1562.08) scale(1 1.05)">KLRC1</text>
<rect x="135.20" y="1588.22" width="20" height="4.3" fill="#000"/>
<text font-size="32.4" text-anchor="end" transform="translate(128.20 1601.57) scale(1 1.05)">KLRA3</text>
<rect x="135.20" y="1627.71" width="20" height="4.3" fill="#000"/>
<text font-size="32.4" text-anchor="end" transform="translate(128.20 1641.06) scale(1 1.05)">KLRD1</text>
<rect x="135.20" y="1667.19" width="20" height="4.3" fill="#000"/>
<text font-size="32.4" text-anchor="end" transform="translate(128.20 1680.54) scale(1 1.05)">TBX21</text>
<rect x="135.20" y="1706.68" width="20" height="4.3" fill="#000"/>
<text font-size="32.4" text-anchor="end" transform="translate(128.20 1720.03) scale(1 1.05)">KLRE1</text>
<rect x="135.20" y="1746.17" width="20" height="4.3" fill="#000"/>
<text font-size="32.4" text-anchor="end" transform="translate(128.20 1759.52) scale(1 1.05)">KLRA9</text>
<rect x="135.20" y="1785.66" width="20" height="4.3" fill="#000"/>
<text font-size="32.4" text-anchor="end" transform="translate(128.20 1799.01) scale(1 1.05)">GZMA</text>
<rect x="135.20" y="1825.14" width="20" height="4.3" fill="#000"/>
<text font-size="32.4" text-anchor="end" transform="translate(128.20 1838.49) scale(1 1.05)">CD38</text>
<rect x="135.20" y="1864.63" width="20" height="4.3" fill="#000"/>
<text font-size="32.4" text-anchor="end" transform="translate(128.20 1877.98) scale(1 1.05)">ENTPD1</text>
<rect x="135.20" y="1904.12" width="20" height="4.3" fill="#000"/>
<text font-size="32.4" text-anchor="end" transform="translate(128.20 1917.47) scale(1 1.05)">CD244</text>
<rect x="135.20" y="1943.61" width="20" height="4.3" fill="#000"/>
<text font-size="32.4" text-anchor="end" transform="translate(128.20 1956.96) scale(1 1.05)">CD7</text>
<defs><linearGradient id="g915" x1="0" y1="1" x2="0" y2="0"><stop offset="0.00" stop-color="#ffffff"/><stop offset="0.05" stop-color="#f2f2ff"/><stop offset="0.10" stop-color="#e6e5ff"/><stop offset="0.15" stop-color="#d9d9ff"/><stop offset="0.20" stop-color="#cdccff"/><stop offset="0.25" stop-color="#c0bfff"/><stop offset="0.30" stop-color="#b4b2ff"/><stop offset="0.35" stop-color="#a8a5ff"/><stop offset="0.40" stop-color="#9c97ff"/><stop offset="0.45" stop-color="#908aff"/><stop offset="0.50" stop-color="#847dff"/><stop offset="0.55" stop-color="#7970ff"/><stop offset="0.60" stop-color="#6d62ff"/><stop offset="0.65" stop-color="#6354ff"/><stop offset="0.70" stop-color="#5a46ff"/><stop offset="0.75" stop-color="#5236ff"/><stop offset="0.80" stop-color="#4928ff"/><stop offset="0.85" stop-color="#3c1bff"/><stop offset="0.90" stop-color="#2d10ff"/><stop offset="0.95" stop-color="#2003ff"/><stop offset="1.00" stop-color="#1400ff"/></linearGradient></defs>
<rect x="916.70" y="386.2" width="58.10" height="1579.3" fill="url(#g915)" stroke="#000" stroke-width="2.4"/>
<text font-size="37.8" transform="translate(996.60 1977.70) scale(1 1.05)">0</text>
<rect x="915.50" y="1648.60" width="11" height="2" fill="#000"/>
<rect x="965.00" y="1648.60" width="11" height="2" fill="#000"/>
<text font-size="37.8" transform="translate(996.60 1661.80) scale(1 1.05)">0.2</text>
<rect x="915.50" y="1332.70" width="11" height="2" fill="#000"/>
<rect x="965.00" y="1332.70" width="11" height="2" fill="#000"/>
<text font-size="37.8" transform="translate(996.60 1345.90) scale(1 1.05)">0.4</text>
<rect x="915.50" y="1016.80" width="11" height="2" fill="#000"/>
<rect x="965.00" y="1016.80" width="11" height="2" fill="#000"/>
<text font-size="37.8" transform="translate(996.60 1030.00) scale(1 1.05)">0.6</text>
<rect x="915.50" y="700.90" width="11" height="2" fill="#000"/>
<rect x="965.00" y="700.90" width="11" height="2" fill="#000"/>
<text font-size="37.8" transform="translate(996.60 714.10) scale(1 1.05)">0.8</text>
<text font-size="37.8" transform="translate(996.60 398.20) scale(1 1.05)">1.0</text>
<rect x="1274.50" y="386.00" width="117.58" height="40.09" fill="#ffffff" shape-rendering="crispEdges"/>
<rect x="1391.48" y="386.00" width="117.58" height="40.09" fill="#908aff" shape-rendering="crispEdges"/>
<rect x="1508.47" y="386.00" width="117.58" height="40.09" fill="#a8a5ff" shape-rendering="crispEdges"/>
<rect x="1625.45" y="386.00" width="117.58" height="40.09" fill="#7268ff" shape-rendering="crispEdges"/>
<rect x="1742.43" y="386.00" width="117.58" height="40.09" fill="#746aff" shape-rendering="crispEdges"/>
<rect x="1859.42" y="386.00" width="117.58" height="40.09" fill="#9792ff" shape-rendering="crispEdges"/>
<rect x="1274.50" y="425.49" width="117.58" height="40.09" fill="#1400ff" shape-rendering="crispEdges"/>
<rect x="1391.48" y="425.49" width="117.58" height="40.09" fill="#766dff" shape-rendering="crispEdges"/>
<rect x="1508.47" y="425.49" width="117.58" height="40.09" fill="#afacff" shape-rendering="crispEdges"/>
<rect x="1625.45" y="425.49" width="117.58" height="40.09" fill="#a19dff" shape-rendering="crispEdges"/>
<rect x="1742.43" y="425.49" width="117.58" height="40.09" fill="#f0f0ff" shape-rendering="crispEdges"/>
<rect x="1859.42" y="425.49" width="117.58" height="40.09" fill="#ffffff" shape-rendering="crispEdges"/>
<rect x="1274.50" y="464.98" width="117.58" height="40.09" fill="#1400ff" shape-rendering="crispEdges"/>
<rect x="1391.48" y="464.98" width="117.58" height="40.09" fill="#5d4cff" shape-rendering="crispEdges"/>
<rect x="1508.47" y="464.98" width="117.58" height="40.09" fill="#ebebff" shape-rendering="crispEdges"/>
<rect x="1625.45" y="464.98" width="117.58" height="40.09" fill="#8c85ff" shape-rendering="crispEdges"/>
<rect x="1742.43" y="464.98" width="117.58" height="40.09" fill="#f0f0ff" shape-rendering="crispEdges"/>
<rect x="1859.42" y="464.98" width="117.58" height="40.09" fill="#ffffff" shape-rendering="crispEdges"/>
<rect x="1274.50" y="504.46" width="117.58" height="40.09" fill="#1400ff" shape-rendering="crispEdges"/>
<rect x="1391.48" y="504.46" width="117.58" height="40.09" fill="#f2f2ff" shape-rendering="crispEdges"/>
<rect x="1508.47" y="504.46" width="117.58" height="40.09" fill="#ffffff" shape-rendering="crispEdges"/>
<rect x="1625.45" y="504.46" width="117.58" height="40.09" fill="#d4d3ff" shape-rendering="crispEdges"/>
<rect x="1742.43" y="504.46" width="117.58" height="40.09" fill="#cfceff" shape-rendering="crispEdges"/>
<rect x="1859.42" y="504.46" width="117.58" height="40.09" fill="#ebebff" shape-rendering="crispEdges"/>
<rect x="1274.50" y="543.95" width="117.58" height="40.09" fill="#3314ff" shape-rendering="crispEdges"/>
<rect x="1391.48" y="543.95" width="117.58" height="40.09" fill="#9792ff" shape-rendering="crispEdges"/>
<rect x="1508.47" y="543.95" width="117.58" height="40.09" fill="#cdccff" shape-rendering="crispEdges"/>
<rect x="1625.45" y="543.95" width="117.58" height="40.09" fill="#8c85ff" shape-rendering="crispEdges"/>
<rect x="1742.43" y="543.95" width="117.58" height="40.09" fill="#ffffff" shape-rendering="crispEdges"/>
<rect x="1859.42" y="543.95" width="117.58" height="40.09" fill="#d4d3ff" shape-rendering="crispEdges"/>
<rect x="1274.50" y="583.44" width="117.58" height="40.09" fill="#4d2dff" shape-rendering="crispEdges"/>
<rect x="1391.48" y="583.44" width="117.58" height="40.09" fill="#ebebff" shape-rendering="crispEdges"/>
<rect x="1508.47" y="583.44" width="117.58" height="40.09" fill="#7d75ff" shape-rendering="crispEdges"/>
<rect x="1625.45" y="583.44" width="117.58" height="40.09" fill="#5d4cff" shape-rendering="crispEdges"/>
<rect x="1742.43" y="583.44" width="117.58" height="40.09" fill="#cdccff" shape-rendering="crispEdges"/>
<rect x="1859.42" y="583.44" width="117.58" height="40.09" fill="#ffffff" shape-rendering="crispEdges"/>
<rect x="1274.50" y="622.92" width="117.58" height="40.09" fill="#ffffff" shape-rendering="crispEdges"/>
<rect x="1391.48" y="622.92" width="117.58" height="40.09" fill="#f7f7ff" shape-rendering="crispEdges"/>
<rect x="1508.47" y="622.92" width="117.58" height="40.09" fill="#b9b7ff" shape-rendering="crispEdges"/>
<rect x="1625.45" y="622.92" width="117.58" height="40.09" fill="#695dff" shape-rendering="crispEdges"/>
<rect x="1742.43" y="622.92" width="117.58" height="40.09" fill="#6557ff" shape-rendering="crispEdges"/>
<rect x="1859.42" y="622.92" width="117.58" height="40.09" fill="#7970ff" shape-rendering="crispEdges"/>
<rect x="1274.50" y="662.41" width="117.58" height="40.09" fill="#afacff" shape-rendering="crispEdges"/>
<rect x="1391.48" y="662.41" width="117.58" height="40.09" fill="#766dff" shape-rendering="crispEdges"/>
<rect x="1508.47" y="662.41" width="117.58" height="40.09" fill="#f7f7ff" shape-rendering="crispEdges"/>
<rect x="1625.45" y="662.41" width="117.58" height="40.09" fill="#b4b2ff" shape-rendering="crispEdges"/>
<rect x="1742.43" y="662.41" width="117.58" height="40.09" fill="#e1e0ff" shape-rendering="crispEdges"/>
<rect x="1859.42" y="662.41" width="117.58" height="40.09" fill="#ffffff" shape-rendering="crispEdges"/>
<rect x="1274.50" y="701.90" width="117.58" height="40.09" fill="#fafaff" shape-rendering="crispEdges"/>
<rect x="1391.48" y="701.90" width="117.58" height="40.09" fill="#7b72ff" shape-rendering="crispEdges"/>
<rect x="1508.47" y="701.90" width="117.58" height="40.09" fill="#ffffff" shape-rendering="crispEdges"/>
<rect x="1625.45" y="701.90" width="117.58" height="40.09" fill="#dcdbff" shape-rendering="crispEdges"/>
<rect x="1742.43" y="701.90" width="117.58" height="40.09" fill="#1400ff" shape-rendering="crispEdges"/>
<rect x="1859.42" y="701.90" width="117.58" height="40.09" fill="#dedeff" shape-rendering="crispEdges"/>
<rect x="1274.50" y="741.39" width="117.58" height="40.09" fill="#1400ff" shape-rendering="crispEdges"/>
<rect x="1391.48" y="741.39" width="117.58" height="40.09" fill="#4d2dff" shape-rendering="crispEdges"/>
<rect x="1508.47" y="741.39" width="117.58" height="40.09" fill="#9c97ff" shape-rendering="crispEdges"/>
<rect x="1625.45" y="741.39" width="117.58" height="40.09" fill="#a8a5ff" shape-rendering="crispEdges"/>
<rect x="1742.43" y="741.39" width="117.58" height="40.09" fill="#d2d1ff" shape-rendering="crispEdges"/>
<rect x="1859.42" y="741.39" width="117.58" height="40.09" fill="#ffffff" shape-rendering="crispEdges"/>
<rect x="1274.50" y="780.88" width="117.58" height="40.09" fill="#8982ff" shape-rendering="crispEdges"/>
<rect x="1391.48" y="780.88" width="117.58" height="40.09" fill="#a39fff" shape-rendering="crispEdges"/>
<rect x="1508.47" y="780.88" width="117.58" height="40.09" fill="#8982ff" shape-rendering="crispEdges"/>
<rect x="1625.45" y="780.88" width="117.58" height="40.09" fill="#958fff" shape-rendering="crispEdges"/>
<rect x="1742.43" y="780.88" width="117.58" height="40.09" fill="#675aff" shape-rendering="crispEdges"/>
<rect x="1859.42" y="780.88" width="117.58" height="40.09" fill="#ffffff" shape-rendering="crispEdges"/>
<rect x="1274.50" y="820.36" width="117.58" height="40.09" fill="#ffffff" shape-rendering="crispEdges"/>
<rect x="1391.48" y="820.36" width="117.58" height="40.09" fill="#dcdbff" shape-rendering="crispEdges"/>
<rect x="1508.47" y="820.36" width="117.58" height="40.09" fill="#b9b7ff" shape-rendering="crispEdges"/>
<rect x="1625.45" y="820.36" width="117.58" height="40.09" fill="#c3c1ff" shape-rendering="crispEdges"/>
<rect x="1742.43" y="820.36" width="117.58" height="40.09" fill="#1400ff" shape-rendering="crispEdges"/>
<rect x="1859.42" y="820.36" width="117.58" height="40.09" fill="#a6a2ff" shape-rendering="crispEdges"/>
<rect x="1274.50" y="859.85" width="117.58" height="40.09" fill="#ffffff" shape-rendering="crispEdges"/>
<rect x="1391.48" y="859.85" width="117.58" height="40.09" fill="#b4b2ff" shape-rendering="crispEdges"/>
<rect x="1508.47" y="859.85" width="117.58" height="40.09" fill="#7268ff" shape-rendering="crispEdges"/>
<rect x="1625.45" y="859.85" width="117.58" height="40.09" fill="#4423ff" shape-rendering="crispEdges"/>
<rect x="1742.43" y="859.85" width="117.58" height="40.09" fill="#1400ff" shape-rendering="crispEdges"/>
<rect x="1859.42" y="859.85" width="117.58" height="40.09" fill="#4d2dff" shape-rendering="crispEdges"/>
<rect x="1274.50" y="899.34" width="117.58" height="40.09" fill="#ffffff" shape-rendering="crispEdges"/>
<rect x="1391.48" y="899.34" width="117.58" height="40.09" fill="#f7f7ff" shape-rendering="crispEdges"/>
<rect x="1508.47" y="899.34" width="117.58" height="40.09" fill="#ebebff" shape-rendering="crispEdges"/>
<rect x="1625.45" y="899.34" width="117.58" height="40.09" fill="#d7d6ff" shape-rendering="crispEdges"/>
<rect x="1742.43" y="899.34" width="117.58" height="40.09" fill="#1400ff" shape-rendering="crispEdges"/>
<rect x="1859.42" y="899.34" width="117.58" height="40.09" fill="#cdccff" shape-rendering="crispEdges"/>
<rect x="1274.50" y="938.82" width="117.58" height="40.09" fill="#ffffff" shape-rendering="crispEdges"/>
<rect x="1391.48" y="938.82" width="117.58" height="40.09" fill="#fafaff" shape-rendering="crispEdges"/>
<rect x="1508.47" y="938.82" width="117.58" height="40.09" fill="#d9d9ff" shape-rendering="crispEdges"/>
<rect x="1625.45" y="938.82" width="117.58" height="40.09" fill="#d4d3ff" shape-rendering="crispEdges"/>
<rect x="1742.43" y="938.82" width="117.58" height="40.09" fill="#1400ff" shape-rendering="crispEdges"/>
<rect x="1859.42" y="938.82" width="117.58" height="40.09" fill="#cdccff" shape-rendering="crispEdges"/>
<rect x="1274.50" y="978.31" width="117.58" height="40.09" fill="#ffffff" shape-rendering="crispEdges"/>
<rect x="1391.48" y="978.31" width="117.58" height="40.09" fill="#ededff" shape-rendering="crispEdges"/>
<rect x="1508.47" y="978.31" width="117.58" height="40.09" fill="#cdccff" shape-rendering="crispEdges"/>
<rect x="1625.45" y="978.31" width="117.58" height="40.09" fill="#847dff" shape-rendering="crispEdges"/>
<rect x="1742.43" y="978.31" width="117.58" height="40.09" fill="#4423ff" shape-rendering="crispEdges"/>
<rect x="1859.42" y="978.31" width="117.58" height="40.09" fill="#270bff" shape-rendering="crispEdges"/>
<rect x="1274.50" y="1017.80" width="117.58" height="40.09" fill="#e6e5ff" shape-rendering="crispEdges"/>
<rect x="1391.48" y="1017.80" width="117.58" height="40.09" fill="#ededff" shape-rendering="crispEdges"/>
<rect x="1508.47" y="1017.80" width="117.58" height="40.09" fill="#ffffff" shape-rendering="crispEdges"/>
<rect x="1625.45" y="1017.80" width="117.58" height="40.09" fill="#8e88ff" shape-rendering="crispEdges"/>
<rect x="1742.43" y="1017.80" width="117.58" height="40.09" fill="#9c97ff" shape-rendering="crispEdges"/>
<rect x="1859.42" y="1017.80" width="117.58" height="40.09" fill="#9c97ff" shape-rendering="crispEdges"/>
<rect x="1274.50" y="1057.29" width="117.58" height="40.09" fill="#e6e5ff" shape-rendering="crispEdges"/>
<rect x="1391.48" y="1057.29" width="117.58" height="40.09" fill="#ffffff" shape-rendering="crispEdges"/>
<rect x="1508.47" y="1057.29" width="117.58" height="40.09" fill="#bebcff" shape-rendering="crispEdges"/>
<rect x="1625.45" y="1057.29" width="117.58" height="40.09" fill="#6557ff" shape-rendering="crispEdges"/>
<rect x="1742.43" y="1057.29" width="117.58" height="40.09" fill="#1400ff" shape-rendering="crispEdges"/>
<rect x="1859.42" y="1057.29" width="117.58" height="40.09" fill="#8e88ff" shape-rendering="crispEdges"/>
<rect x="1274.50" y="1096.78" width="117.58" height="40.09" fill="#ffffff" shape-rendering="crispEdges"/>
<rect x="1391.48" y="1096.78" width="117.58" height="40.09" fill="#fcfcff" shape-rendering="crispEdges"/>
<rect x="1508.47" y="1096.78" width="117.58" height="40.09" fill="#cdccff" shape-rendering="crispEdges"/>
<rect x="1625.45" y="1096.78" width="117.58" height="40.09" fill="#847dff" shape-rendering="crispEdges"/>
<rect x="1742.43" y="1096.78" width="117.58" height="40.09" fill="#1400ff" shape-rendering="crispEdges"/>
<rect x="1859.42" y="1096.78" width="117.58" height="40.09" fill="#6557ff" shape-rendering="crispEdges"/>
<rect x="1274.50" y="1136.26" width="117.58" height="40.09" fill="#ffffff" shape-rendering="crispEdges"/>
<rect x="1391.48" y="1136.26" width="117.58" height="40.09" fill="#ededff" shape-rendering="crispEdges"/>
<rect x="1508.47" y="1136.26" width="117.58" height="40.09" fill="#a39fff" shape-rendering="crispEdges"/>
<rect x="1625.45" y="1136.26" width="117.58" height="40.09" fill="#8078ff" shape-rendering="crispEdges"/>
<rect x="1742.43" y="1136.26" width="117.58" height="40.09" fill="#5236ff" shape-rendering="crispEdges"/>
<rect x="1859.42" y="1136.26" width="117.58" height="40.09" fill="#1400ff" shape-rendering="crispEdges"/>
<rect x="1274.50" y="1175.75" width="117.58" height="40.09" fill="#ffffff" shape-rendering="crispEdges"/>
<rect x="1391.48" y="1175.75" width="117.58" height="40.09" fill="#f2f2ff" shape-rendering="crispEdges"/>
<rect x="1508.47" y="1175.75" width="117.58" height="40.09" fill="#e1e0ff" shape-rendering="crispEdges"/>
<rect x="1625.45" y="1175.75" width="117.58" height="40.09" fill="#7d75ff" shape-rendering="crispEdges"/>
<rect x="1742.43" y="1175.75" width="117.58" height="40.09" fill="#4d2dff" shape-rendering="crispEdges"/>
<rect x="1859.42" y="1175.75" width="117.58" height="40.09" fill="#1400ff" shape-rendering="crispEdges"/>
<rect x="1274.50" y="1215.24" width="117.58" height="40.09" fill="#ffffff" shape-rendering="crispEdges"/>
<rect x="1391.48" y="1215.24" width="117.58" height="40.09" fill="#dedeff" shape-rendering="crispEdges"/>
<rect x="1508.47" y="1215.24" width="117.58" height="40.09" fill="#c8c6ff" shape-rendering="crispEdges"/>
<rect x="1625.45" y="1215.24" width="117.58" height="40.09" fill="#1400ff" shape-rendering="crispEdges"/>
<rect x="1742.43" y="1215.24" width="117.58" height="40.09" fill="#8e88ff" shape-rendering="crispEdges"/>
<rect x="1859.42" y="1215.24" width="117.58" height="40.09" fill="#9c97ff" shape-rendering="crispEdges"/>
<rect x="1274.50" y="1254.72" width="117.58" height="40.09" fill="#ffffff" shape-rendering="crispEdges"/>
<rect x="1391.48" y="1254.72" width="117.58" height="40.09" fill="#9c97ff" shape-rendering="crispEdges"/>
<rect x="1508.47" y="1254.72" width="117.58" height="40.09" fill="#dedeff" shape-rendering="crispEdges"/>
<rect x="1625.45" y="1254.72" width="117.58" height="40.09" fill="#c8c6ff" shape-rendering="crispEdges"/>
<rect x="1742.43" y="1254.72" width="117.58" height="40.09" fill="#1400ff" shape-rendering="crispEdges"/>
<rect x="1859.42" y="1254.72" width="117.58" height="40.09" fill="#908aff" shape-rendering="crispEdges"/>
<rect x="1274.50" y="1294.21" width="117.58" height="40.09" fill="#b9b7ff" shape-rendering="crispEdges"/>
<rect x="1391.48" y="1294.21" width="117.58" height="40.09" fill="#8078ff" shape-rendering="crispEdges"/>
<rect x="1508.47" y="1294.21" width="117.58" height="40.09" fill="#2d10ff" shape-rendering="crispEdges"/>
<rect x="1625.45" y="1294.21" width="117.58" height="40.09" fill="#8e88ff" shape-rendering="crispEdges"/>
<rect x="1742.43" y="1294.21" width="117.58" height="40.09" fill="#ffffff" shape-rendering="crispEdges"/>
<rect x="1859.42" y="1294.21" width="117.58" height="40.09" fill="#cdccff" shape-rendering="crispEdges"/>
<rect x="1274.50" y="1333.70" width="117.58" height="40.09" fill="#c5c4ff" shape-rendering="crispEdges"/>
<rect x="1391.48" y="1333.70" width="117.58" height="40.09" fill="#8078ff" shape-rendering="crispEdges"/>
<rect x="1508.47" y="1333.70" width="117.58" height="40.09" fill="#5740ff" shape-rendering="crispEdges"/>
<rect x="1625.45" y="1333.70" width="117.58" height="40.09" fill="#675aff" shape-rendering="crispEdges"/>
<rect x="1742.43" y="1333.70" width="117.58" height="40.09" fill="#ffffff" shape-rendering="crispEdges"/>
<rect x="1859.42" y="1333.70" width="117.58" height="40.09" fill="#d2d1ff" shape-rendering="crispEdges"/>
<rect x="1274.50" y="1373.19" width="117.58" height="40.09" fill="#1400ff" shape-rendering="crispEdges"/>
<rect x="1391.48" y="1373.19" width="117.58" height="40.09" fill="#8c85ff" shape-rendering="crispEdges"/>
<rect x="1508.47" y="1373.19" width="117.58" height="40.09" fill="#a19dff" shape-rendering="crispEdges"/>
<rect x="1625.45" y="1373.19" width="117.58" height="40.09" fill="#9792ff" shape-rendering="crispEdges"/>
<rect x="1742.43" y="1373.19" width="117.58" height="40.09" fill="#f5f5ff" shape-rendering="crispEdges"/>
<rect x="1859.42" y="1373.19" width="117.58" height="40.09" fill="#ffffff" shape-rendering="crispEdges"/>
<rect x="1274.50" y="1412.67" width="117.58" height="40.09" fill="#ffffff" shape-rendering="crispEdges"/>
<rect x="1391.48" y="1412.67" width="117.58" height="40.09" fill="#fcfcff" shape-rendering="crispEdges"/>
<rect x="1508.47" y="1412.67" width="117.58" height="40.09" fill="#b9b7ff" shape-rendering="crispEdges"/>
<rect x="1625.45" y="1412.67" width="117.58" height="40.09" fill="#1400ff" shape-rendering="crispEdges"/>
<rect x="1742.43" y="1412.67" width="117.58" height="40.09" fill="#c8c6ff" shape-rendering="crispEdges"/>
<rect x="1859.42" y="1412.67" width="117.58" height="40.09" fill="#ebebff" shape-rendering="crispEdges"/>
<rect x="1274.50" y="1452.16" width="117.58" height="40.09" fill="#ffffff" shape-rendering="crispEdges"/>
<rect x="1391.48" y="1452.16" width="117.58" height="40.09" fill="#f7f7ff" shape-rendering="crispEdges"/>
<rect x="1508.47" y="1452.16" width="117.58" height="40.09" fill="#6d62ff" shape-rendering="crispEdges"/>
<rect x="1625.45" y="1452.16" width="117.58" height="40.09" fill="#6557ff" shape-rendering="crispEdges"/>
<rect x="1742.43" y="1452.16" width="117.58" height="40.09" fill="#4423ff" shape-rendering="crispEdges"/>
<rect x="1859.42" y="1452.16" width="117.58" height="40.09" fill="#2d10ff" shape-rendering="crispEdges"/>
<rect x="1274.50" y="1491.65" width="117.58" height="40.09" fill="#ffffff" shape-rendering="crispEdges"/>
<rect x="1391.48" y="1491.65" width="117.58" height="40.09" fill="#dedeff" shape-rendering="crispEdges"/>
<rect x="1508.47" y="1491.65" width="117.58" height="40.09" fill="#bcb9ff" shape-rendering="crispEdges"/>
<rect x="1625.45" y="1491.65" width="117.58" height="40.09" fill="#a19dff" shape-rendering="crispEdges"/>
<rect x="1742.43" y="1491.65" width="117.58" height="40.09" fill="#1400ff" shape-rendering="crispEdges"/>
<rect x="1859.42" y="1491.65" width="117.58" height="40.09" fill="#8982ff" shape-rendering="crispEdges"/>
<rect x="1274.50" y="1531.14" width="117.58" height="40.09" fill="#ffffff" shape-rendering="crispEdges"/>
<rect x="1391.48" y="1531.14" width="117.58" height="40.09" fill="#9c97ff" shape-rendering="crispEdges"/>
<rect x="1508.47" y="1531.14" width="117.58" height="40.09" fill="#8c85ff" shape-rendering="crispEdges"/>
<rect x="1625.45" y="1531.14" width="117.58" height="40.09" fill="#8c85ff" shape-rendering="crispEdges"/>
<rect x="1742.43" y="1531.14" width="117.58" height="40.09" fill="#270bff" shape-rendering="crispEdges"/>
<rect x="1859.42" y="1531.14" width="117.58" height="40.09" fill="#1400ff" shape-rendering="crispEdges"/>
<rect x="1274.50" y="1570.62" width="117.58" height="40.09" fill="#d2d1ff" shape-rendering="crispEdges"/>
<rect x="1391.48" y="1570.62" width="117.58" height="40.09" fill="#1400ff" shape-rendering="crispEdges"/>
<rect x="1508.47" y="1570.62" width="117.58" height="40.09" fill="#ffffff" shape-rendering="crispEdges"/>
<rect x="1625.45" y="1570.62" width="117.58" height="40.09" fill="#9c97ff" shape-rendering="crispEdges"/>
<rect x="1742.43" y="1570.62" width="117.58" height="40.09" fill="#f0f0ff" shape-rendering="crispEdges"/>
<rect x="1859.42" y="1570.62" width="117.58" height="40.09" fill="#9c97ff" shape-rendering="crispEdges"/>
<rect x="1274.50" y="1610.11" width="117.58" height="40.09" fill="#ffffff" shape-rendering="crispEdges"/>
<rect x="1391.48" y="1610.11" width="117.58" height="40.09" fill="#aba7ff" shape-rendering="crispEdges"/>
<rect x="1508.47" y="1610.11" width="117.58" height="40.09" fill="#bebcff" shape-rendering="crispEdges"/>
<rect x="1625.45" y="1610.11" width="117.58" height="40.09" fill="#b4b2ff" shape-rendering="crispEdges"/>
<rect x="1742.43" y="1610.11" width="117.58" height="40.09" fill="#d4d3ff" shape-rendering="crispEdges"/>
<rect x="1859.42" y="1610.11" width="117.58" height="40.09" fill="#5740ff" shape-rendering="crispEdges"/>
<rect x="1274.50" y="1649.60" width="117.58" height="40.09" fill="#ffffff" shape-rendering="crispEdges"/>
<rect x="1391.48" y="1649.60" width="117.58" height="40.09" fill="#8c85ff" shape-rendering="crispEdges"/>
<rect x="1508.47" y="1649.60" width="117.58" height="40.09" fill="#8078ff" shape-rendering="crispEdges"/>
<rect x="1625.45" y="1649.60" width="117.58" height="40.09" fill="#5d4cff" shape-rendering="crispEdges"/>
<rect x="1742.43" y="1649.60" width="117.58" height="40.09" fill="#847dff" shape-rendering="crispEdges"/>
<rect x="1859.42" y="1649.60" width="117.58" height="40.09" fill="#553dff" shape-rendering="crispEdges"/>
<rect x="1274.50" y="1689.09" width="117.58" height="40.09" fill="#ffffff" shape-rendering="crispEdges"/>
<rect x="1391.48" y="1689.09" width="117.58" height="40.09" fill="#553dff" shape-rendering="crispEdges"/>
<rect x="1508.47" y="1689.09" width="117.58" height="40.09" fill="#bebcff" shape-rendering="crispEdges"/>
<rect x="1625.45" y="1689.09" width="117.58" height="40.09" fill="#8078ff" shape-rendering="crispEdges"/>
<rect x="1742.43" y="1689.09" width="117.58" height="40.09" fill="#cdccff" shape-rendering="crispEdges"/>
<rect x="1859.42" y="1689.09" width="117.58" height="40.09" fill="#1400ff" shape-rendering="crispEdges"/>
<rect x="1274.50" y="1728.57" width="117.58" height="40.09" fill="#ffffff" shape-rendering="crispEdges"/>
<rect x="1391.48" y="1728.57" width="117.58" height="40.09" fill="#1400ff" shape-rendering="crispEdges"/>
<rect x="1508.47" y="1728.57" width="117.58" height="40.09" fill="#f0f0ff" shape-rendering="crispEdges"/>
<rect x="1625.45" y="1728.57" width="117.58" height="40.09" fill="#9c97ff" shape-rendering="crispEdges"/>
<rect x="1742.43" y="1728.57" width="117.58" height="40.09" fill="#f7f7ff" shape-rendering="crispEdges"/>
<rect x="1859.42" y="1728.57" width="117.58" height="40.09" fill="#ffffff" shape-rendering="crispEdges"/>
<rect x="1274.50" y="1768.06" width="117.58" height="40.09" fill="#ffffff" shape-rendering="crispEdges"/>
<rect x="1391.48" y="1768.06" width="117.58" height="40.09" fill="#e1e0ff" shape-rendering="crispEdges"/>
<rect x="1508.47" y="1768.06" width="117.58" height="40.09" fill="#1400ff" shape-rendering="crispEdges"/>
<rect x="1625.45" y="1768.06" width="117.58" height="40.09" fill="#3c1bff" shape-rendering="crispEdges"/>
<rect x="1742.43" y="1768.06" width="117.58" height="40.09" fill="#6d62ff" shape-rendering="crispEdges"/>
<rect x="1859.42" y="1768.06" width="117.58" height="40.09" fill="#cdccff" shape-rendering="crispEdges"/>
<rect x="1274.50" y="1807.55" width="117.58" height="40.09" fill="#ffffff" shape-rendering="crispEdges"/>
<rect x="1391.48" y="1807.55" width="117.58" height="40.09" fill="#bebcff" shape-rendering="crispEdges"/>
<rect x="1508.47" y="1807.55" width="117.58" height="40.09" fill="#a19dff" shape-rendering="crispEdges"/>
<rect x="1625.45" y="1807.55" width="117.58" height="40.09" fill="#908aff" shape-rendering="crispEdges"/>
<rect x="1742.43" y="1807.55" width="117.58" height="40.09" fill="#d2d1ff" shape-rendering="crispEdges"/>
<rect x="1859.42" y="1807.55" width="117.58" height="40.09" fill="#1400ff" shape-rendering="crispEdges"/>
<rect x="1274.50" y="1847.04" width="117.58" height="40.09" fill="#ffffff" shape-rendering="crispEdges"/>
<rect x="1391.48" y="1847.04" width="117.58" height="40.09" fill="#e8e8ff" shape-rendering="crispEdges"/>
<rect x="1508.47" y="1847.04" width="117.58" height="40.09" fill="#9c97ff" shape-rendering="crispEdges"/>
<rect x="1625.45" y="1847.04" width="117.58" height="40.09" fill="#1400ff" shape-rendering="crispEdges"/>
<rect x="1742.43" y="1847.04" width="117.58" height="40.09" fill="#c0bfff" shape-rendering="crispEdges"/>
<rect x="1859.42" y="1847.04" width="117.58" height="40.09" fill="#2508ff" shape-rendering="crispEdges"/>
<rect x="1274.50" y="1886.52" width="117.58" height="40.09" fill="#ffffff" shape-rendering="crispEdges"/>
<rect x="1391.48" y="1886.52" width="117.58" height="40.09" fill="#4423ff" shape-rendering="crispEdges"/>
<rect x="1508.47" y="1886.52" width="117.58" height="40.09" fill="#e1e0ff" shape-rendering="crispEdges"/>
<rect x="1625.45" y="1886.52" width="117.58" height="40.09" fill="#746aff" shape-rendering="crispEdges"/>
<rect x="1742.43" y="1886.52" width="117.58" height="40.09" fill="#d9d9ff" shape-rendering="crispEdges"/>
<rect x="1859.42" y="1886.52" width="117.58" height="40.09" fill="#1400ff" shape-rendering="crispEdges"/>
<rect x="1274.50" y="1926.01" width="117.58" height="40.09" fill="#f7f7ff" shape-rendering="crispEdges"/>
<rect x="1391.48" y="1926.01" width="117.58" height="40.09" fill="#2d10ff" shape-rendering="crispEdges"/>
<rect x="1508.47" y="1926.01" width="117.58" height="40.09" fill="#9c97ff" shape-rendering="crispEdges"/>
<rect x="1625.45" y="1926.01" width="117.58" height="40.09" fill="#9c97ff" shape-rendering="crispEdges"/>
<rect x="1742.43" y="1926.01" width="117.58" height="40.09" fill="#f2f2ff" shape-rendering="crispEdges"/>
<rect x="1859.42" y="1926.01" width="117.58" height="40.09" fill="#ffffff" shape-rendering="crispEdges"/>
<rect x="1274.50" y="386.00" width="701.90" height="1579.50" fill="none" stroke="#000" stroke-width="4.4"/>
<rect x="1330.89" y="366" width="4.2" height="20.00" fill="#000"/>
<text font-size="38.4" transform="translate(1341.59 337.40) rotate(-45) scale(1 1.05)">Naive</text>
<rect x="1447.88" y="366" width="4.2" height="20.00" fill="#000"/>
<text font-size="38.4" transform="translate(1458.57 337.40) rotate(-45) scale(1 1.05)">CentralMemory</text>
<rect x="1564.86" y="366" width="4.2" height="20.00" fill="#000"/>
<text font-size="38.4" transform="translate(1575.56 337.40) rotate(-45) scale(1 1.05)">Exh_pre</text>
<rect x="1681.84" y="366" width="4.2" height="20.00" fill="#000"/>
<text font-size="38.4" transform="translate(1692.54 337.40) rotate(-45) scale(1 1.05)">Exh_Trans</text>
<rect x="1798.83" y="366" width="4.2" height="20.00" fill="#000"/>
<text font-size="38.4" transform="translate(1809.53 337.40) rotate(-45) scale(1 1.05)">Eff_like</text>
<rect x="1915.81" y="366" width="4.2" height="20.00" fill="#000"/>
<text font-size="38.4" transform="translate(1926.51 337.40) rotate(-45) scale(1 1.05)">Exh_Term</text>
<rect x="1254.50" y="403.59" width="20" height="4.3" fill="#000"/>
<text font-size="32.4" text-anchor="end" transform="translate(1247.50 416.94) scale(1 1.05)">CD44</text>
<rect x="1254.50" y="443.08" width="20" height="4.3" fill="#000"/>
<text font-size="32.4" text-anchor="end" transform="translate(1247.50 456.43) scale(1 1.05)">TCF7</text>
<rect x="1254.50" y="482.57" width="20" height="4.3" fill="#000"/>
<text font-size="32.4" text-anchor="end" transform="translate(1247.50 495.92) scale(1 1.05)">SELL</text>
<rect x="1254.50" y="522.06" width="20" height="4.3" fill="#000"/>
<text font-size="32.4" text-anchor="end" transform="translate(1247.50 535.41) scale(1 1.05)">CCR7</text>
<rect x="1254.50" y="561.54" width="20" height="4.3" fill="#000"/>
<text font-size="32.4" text-anchor="end" transform="translate(1247.50 574.89) scale(1 1.05)">IL7R</text>
<rect x="1254.50" y="601.03" width="20" height="4.3" fill="#000"/>
<text font-size="32.4" text-anchor="end" transform="translate(1247.50 614.38) scale(1 1.05)">SLAMF6</text>
<rect x="1254.50" y="640.52" width="20" height="4.3" fill="#000"/>
<text font-size="32.4" text-anchor="end" transform="translate(1247.50 653.87) scale(1 1.05)">HIF1A</text>
<rect x="1254.50" y="680.01" width="20" height="4.3" fill="#000"/>
<text font-size="32.4" text-anchor="end" transform="translate(1247.50 693.36) scale(1 1.05)">BCL6</text>
<rect x="1254.50" y="719.49" width="20" height="4.3" fill="#000"/>
<text font-size="32.4" text-anchor="end" transform="translate(1247.50 732.84) scale(1 1.05)">XCL1</text>
<rect x="1254.50" y="758.98" width="20" height="4.3" fill="#000"/>
<text font-size="32.4" text-anchor="end" transform="translate(1247.50 772.33) scale(1 1.05)">ID3</text>
<rect x="1254.50" y="798.47" width="20" height="4.3" fill="#000"/>
<text font-size="32.4" text-anchor="end" transform="translate(1247.50 811.82) scale(1 1.05)">EOMES</text>
<rect x="1254.50" y="837.96" width="20" height="4.3" fill="#000"/>
<text font-size="32.4" text-anchor="end" transform="translate(1247.50 851.31) scale(1 1.05)">IFNG</text>
<rect x="1254.50" y="877.44" width="20" height="4.3" fill="#000"/>
<text font-size="32.4" text-anchor="end" transform="translate(1247.50 890.79) scale(1 1.05)">GZMB</text>
<rect x="1254.50" y="916.93" width="20" height="4.3" fill="#000"/>
<text font-size="32.4" text-anchor="end" transform="translate(1247.50 930.28) scale(1 1.05)">CCL3</text>
<rect x="1254.50" y="956.42" width="20" height="4.3" fill="#000"/>
<text font-size="32.4" text-anchor="end" transform="translate(1247.50 969.77) scale(1 1.05)">CCL4</text>
<rect x="1254.50" y="995.91" width="20" height="4.3" fill="#000"/>
<text font-size="32.4" text-anchor="end" transform="translate(1247.50 1009.26) scale(1 1.05)">PRF1</text>
<rect x="1254.50" y="1035.39" width="20" height="4.3" fill="#000"/>
<text font-size="32.4" text-anchor="end" transform="translate(1247.50 1048.74) scale(1 1.05)">TOX</text>
<rect x="1254.50" y="1074.88" width="20" height="4.3" fill="#000"/>
<text font-size="32.4" text-anchor="end" transform="translate(1247.50 1088.23) scale(1 1.05)">TOX2</text>
<rect x="1254.50" y="1114.37" width="20" height="4.3" fill="#000"/>
<text font-size="32.4" text-anchor="end" transform="translate(1247.50 1127.72) scale(1 1.05)">HAVCR2</text>
<rect x="1254.50" y="1153.86" width="20" height="4.3" fill="#000"/>
<text font-size="32.4" text-anchor="end" transform="translate(1247.50 1167.21) scale(1 1.05)">PDCD1</text>
<rect x="1254.50" y="1193.34" width="20" height="4.3" fill="#000"/>
<text font-size="32.4" text-anchor="end" transform="translate(1247.50 1206.69) scale(1 1.05)">LAG3</text>
<rect x="1254.50" y="1232.83" width="20" height="4.3" fill="#000"/>
<text font-size="32.4" text-anchor="end" transform="translate(1247.50 1246.18) scale(1 1.05)">TIGIT</text>
<rect x="1254.50" y="1272.32" width="20" height="4.3" fill="#000"/>
<text font-size="32.4" text-anchor="end" transform="translate(1247.50 1285.67) scale(1 1.05)">CD160</text>
<rect x="1254.50" y="1311.81" width="20" height="4.3" fill="#000"/>
<text font-size="32.4" text-anchor="end" transform="translate(1247.50 1325.16) scale(1 1.05)">IFIT3</text>
<rect x="1254.50" y="1351.29" width="20" height="4.3" fill="#000"/>
<text font-size="32.4" text-anchor="end" transform="translate(1247.50 1364.64) scale(1 1.05)">IFIT1</text>
<rect x="1254.50" y="1390.78" width="20" height="4.3" fill="#000"/>
<text font-size="32.4" text-anchor="end" transform="translate(1247.50 1404.13) scale(1 1.05)">KLF2</text>
<rect x="1254.50" y="1430.27" width="20" height="4.3" fill="#000"/>
<text font-size="32.4" text-anchor="end" transform="translate(1247.50 1443.62) scale(1 1.05)">KLRG1</text>
<rect x="1254.50" y="1469.76" width="20" height="4.3" fill="#000"/>
<text font-size="32.4" text-anchor="end" transform="translate(1247.50 1483.11) scale(1 1.05)">CX3CR1</text>
<rect x="1254.50" y="1509.24" width="20" height="4.3" fill="#000"/>
<text font-size="32.4" text-anchor="end" transform="translate(1247.50 1522.59) scale(1 1.05)">ZEB2</text>
<rect x="1254.50" y="1548.73" width="20" height="4.3" fill="#000"/>
<text font-size="32.4" text-anchor="end" transform="translate(1247.50 1562.08) scale(1 1.05)">KLRC1</text>
<rect x="1254.50" y="1588.22" width="20" height="4.3" fill="#000"/>
<text font-size="32.4" text-anchor="end" transform="translate(1247.50 1601.57) scale(1 1.05)">KLRA3</text>
<rect x="1254.50" y="1627.71" width="20" height="4.3" fill="#000"/>
<text font-size="32.4" text-anchor="end" transform="translate(1247.50 1641.06) scale(1 1.05)">KLRD1</text>
<rect x="1254.50" y="1667.19" width="20" height="4.3" fill="#000"/>
<text font-size="32.4" text-anchor="end" transform="translate(1247.50 1680.54) scale(1 1.05)">TBX21</text>
<rect x="1254.50" y="1706.68" width="20" height="4.3" fill="#000"/>
<text font-size="32.4" text-anchor="end" transform="translate(1247.50 1720.03) scale(1 1.05)">KLRE1</text>
<rect x="1254.50" y="1746.17" width="20" height="4.3" fill="#000"/>
<text font-size="32.4" text-anchor="end" transform="translate(1247.50 1759.52) scale(1 1.05)">KLRA9</text>
<rect x="1254.50" y="1785.66" width="20" height="4.3" fill="#000"/>
<text font-size="32.4" text-anchor="end" transform="translate(1247.50 1799.01) scale(1 1.05)">GZMA</text>
<rect x="1254.50" y="1825.14" width="20" height="4.3" fill="#000"/>
<text font-size="32.4" text-anchor="end" transform="translate(1247.50 1838.49) scale(1 1.05)">CD38</text>
<rect x="1254.50" y="1864.63" width="20" height="4.3" fill="#000"/>
<text font-size="32.4" text-anchor="end" transform="translate(1247.50 1877.98) scale(1 1.05)">ENTPD1</text>
<rect x="1254.50" y="1904.12" width="20" height="4.3" fill="#000"/>
<text font-size="32.4" text-anchor="end" transform="translate(1247.50 1917.47) scale(1 1.05)">CD244A</text>
<rect x="1254.50" y="1943.61" width="20" height="4.3" fill="#000"/>
<text font-size="32.4" text-anchor="end" transform="translate(1247.50 1956.96) scale(1 1.05)">CD7</text>
<defs><linearGradient id="g2034" x1="0" y1="1" x2="0" y2="0"><stop offset="0.00" stop-color="#ffffff"/><stop offset="0.05" stop-color="#f2f2ff"/><stop offset="0.10" stop-color="#e6e5ff"/><stop offset="0.15" stop-color="#d9d9ff"/><stop offset="0.20" stop-color="#cdccff"/><stop offset="0.25" stop-color="#c0bfff"/><stop offset="0.30" stop-color="#b4b2ff"/><stop offset="0.35" stop-color="#a8a5ff"/><stop offset="0.40" stop-color="#9c97ff"/><stop offset="0.45" stop-color="#908aff"/><stop offset="0.50" stop-color="#847dff"/><stop offset="0.55" stop-color="#7970ff"/><stop offset="0.60" stop-color="#6d62ff"/><stop offset="0.65" stop-color="#6354ff"/><stop offset="0.70" stop-color="#5a46ff"/><stop offset="0.75" stop-color="#5236ff"/><stop offset="0.80" stop-color="#4928ff"/><stop offset="0.85" stop-color="#3c1bff"/><stop offset="0.90" stop-color="#2d10ff"/><stop offset="0.95" stop-color="#2003ff"/><stop offset="1.00" stop-color="#1400ff"/></linearGradient></defs>
<rect x="2035.50" y="386.2" width="58.10" height="1579.3" fill="url(#g2034)" stroke="#000" stroke-width="2.4"/>
<text font-size="37.8" transform="translate(2115.40 1977.70) scale(1 1.05)">0</text>
<rect x="2034.30" y="1648.60" width="11" height="2" fill="#000"/>
<rect x="2083.80" y="1648.60" width="11" height="2" fill="#000"/>
<text font-size="37.8" transform="translate(2115.40 1661.80) scale(1 1.05)">0.2</text>
<rect x="2034.30" y="1332.70" width="11" height="2" fill="#000"/>
<rect x="2083.80" y="1332.70" width="11" height="2" fill="#000"/>
<text font-size="37.8" transform="translate(2115.40 1345.90) scale(1 1.05)">0.4</text>
<rect x="2034.30" y="1016.80" width="11" height="2" fill="#000"/>
<rect x="2083.80" y="1016.80" width="11" height="2" fill="#000"/>
<text font-size="37.8" transform="translate(2115.40 1030.00) scale(1 1.05)">0.6</text>
<rect x="2034.30" y="700.90" width="11" height="2" fill="#000"/>
<rect x="2083.80" y="700.90" width="11" height="2" fill="#000"/>
<text font-size="37.8" transform="translate(2115.40 714.10) scale(1 1.05)">0.8</text>
<text font-size="37.8" transform="translate(2115.40 398.20) scale(1 1.05)">1.0</text>
<text font-size="59.45" transform="translate(44.0 47.6) scale(1 1.05)">Giles, J.R., et al, Nat Immunol, 2022</text>
<text font-size="59.45" transform="translate(1193.0 43.8) scale(1 1.05)">Data generated in this TL1A study</text>
</svg></body></html>
